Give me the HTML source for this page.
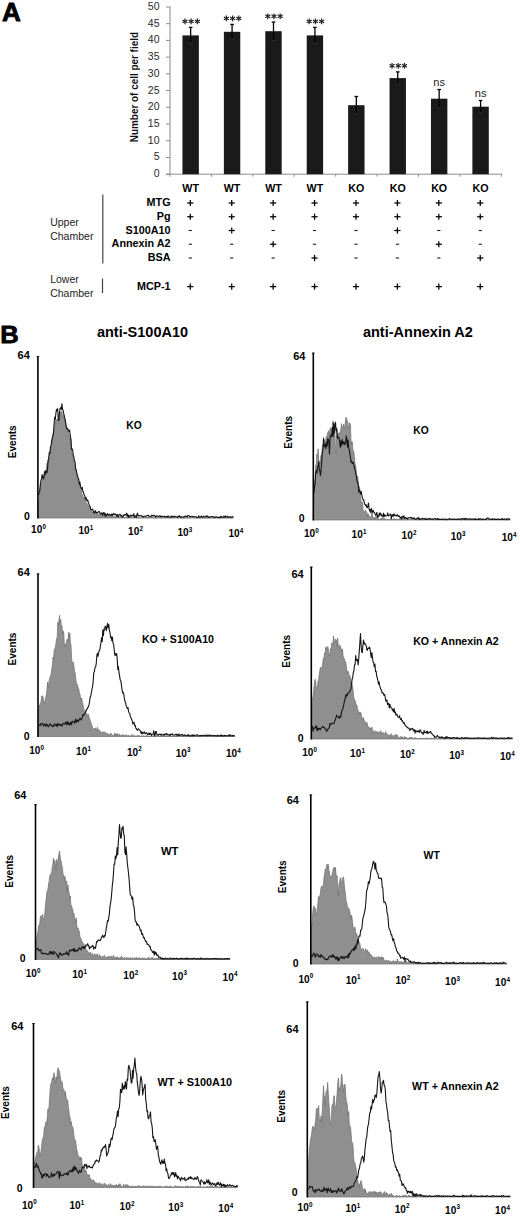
<!DOCTYPE html>
<html><head><meta charset="utf-8"><style>
html,body{margin:0;padding:0;background:#fff;}
body{width:520px;height:1216px;overflow:hidden;}
svg{display:block;font-family:"Liberation Sans",sans-serif;}
</style></head><body>
<svg width="520" height="1216" viewBox="0 0 520 1216">
<rect width="520" height="1216" fill="#fff"/>
<text transform="translate(1.9,20.9) scale(1.02,1)" font-size="25.6" font-weight="bold" stroke="#000" stroke-width="0.8">A</text>
<line x1="170.00" y1="6.50" x2="170.00" y2="174.20" stroke="#8c8c8c" stroke-width="1"/>
<line x1="166.00" y1="174.20" x2="170.00" y2="174.20" stroke="#8c8c8c" stroke-width="1"/>
<text x="159.50" y="177.20" font-size="10.5" font-weight="normal" text-anchor="end" fill="#2a2a2a" >0</text>
<line x1="166.00" y1="157.47" x2="170.00" y2="157.47" stroke="#8c8c8c" stroke-width="1"/>
<text x="159.50" y="160.47" font-size="10.5" font-weight="normal" text-anchor="end" fill="#2a2a2a" >5</text>
<line x1="166.00" y1="140.75" x2="170.00" y2="140.75" stroke="#8c8c8c" stroke-width="1"/>
<text x="159.50" y="143.75" font-size="10.5" font-weight="normal" text-anchor="end" fill="#2a2a2a" >10</text>
<line x1="166.00" y1="124.02" x2="170.00" y2="124.02" stroke="#8c8c8c" stroke-width="1"/>
<text x="159.50" y="127.02" font-size="10.5" font-weight="normal" text-anchor="end" fill="#2a2a2a" >15</text>
<line x1="166.00" y1="107.30" x2="170.00" y2="107.30" stroke="#8c8c8c" stroke-width="1"/>
<text x="159.50" y="110.30" font-size="10.5" font-weight="normal" text-anchor="end" fill="#2a2a2a" >20</text>
<line x1="166.00" y1="90.57" x2="170.00" y2="90.57" stroke="#8c8c8c" stroke-width="1"/>
<text x="159.50" y="93.57" font-size="10.5" font-weight="normal" text-anchor="end" fill="#2a2a2a" >25</text>
<line x1="166.00" y1="73.85" x2="170.00" y2="73.85" stroke="#8c8c8c" stroke-width="1"/>
<text x="159.50" y="76.85" font-size="10.5" font-weight="normal" text-anchor="end" fill="#2a2a2a" >30</text>
<line x1="166.00" y1="57.12" x2="170.00" y2="57.12" stroke="#8c8c8c" stroke-width="1"/>
<text x="159.50" y="60.12" font-size="10.5" font-weight="normal" text-anchor="end" fill="#2a2a2a" >35</text>
<line x1="166.00" y1="40.40" x2="170.00" y2="40.40" stroke="#8c8c8c" stroke-width="1"/>
<text x="159.50" y="43.40" font-size="10.5" font-weight="normal" text-anchor="end" fill="#2a2a2a" >40</text>
<line x1="166.00" y1="23.67" x2="170.00" y2="23.67" stroke="#8c8c8c" stroke-width="1"/>
<text x="159.50" y="26.67" font-size="10.5" font-weight="normal" text-anchor="end" fill="#2a2a2a" >45</text>
<line x1="166.00" y1="6.95" x2="170.00" y2="6.95" stroke="#8c8c8c" stroke-width="1"/>
<text x="159.50" y="9.95" font-size="10.5" font-weight="normal" text-anchor="end" fill="#2a2a2a" >50</text>
<line x1="166.00" y1="174.20" x2="502.00" y2="174.20" stroke="#8c8c8c" stroke-width="1"/>
<line x1="170.00" y1="174.20" x2="170.00" y2="176.70" stroke="#8c8c8c" stroke-width="1"/>
<line x1="211.42" y1="174.20" x2="211.42" y2="176.70" stroke="#8c8c8c" stroke-width="1"/>
<line x1="252.84" y1="174.20" x2="252.84" y2="176.70" stroke="#8c8c8c" stroke-width="1"/>
<line x1="294.26" y1="174.20" x2="294.26" y2="176.70" stroke="#8c8c8c" stroke-width="1"/>
<line x1="335.68" y1="174.20" x2="335.68" y2="176.70" stroke="#8c8c8c" stroke-width="1"/>
<line x1="377.10" y1="174.20" x2="377.10" y2="176.70" stroke="#8c8c8c" stroke-width="1"/>
<line x1="418.52" y1="174.20" x2="418.52" y2="176.70" stroke="#8c8c8c" stroke-width="1"/>
<line x1="459.94" y1="174.20" x2="459.94" y2="176.70" stroke="#8c8c8c" stroke-width="1"/>
<line x1="501.36" y1="174.20" x2="501.36" y2="176.70" stroke="#8c8c8c" stroke-width="1"/>
<text transform="translate(137.8,87.1) rotate(-90)" font-size="10.2" font-weight="bold" text-anchor="middle" fill="#111" textLength="110.2" lengthAdjust="spacingAndGlyphs">Number of cell per field</text>
<rect x="182.45" y="35.40" width="16.4" height="138.80" fill="#1a1a1a"/>
<line x1="190.65" y1="27.40" x2="190.65" y2="43.40" stroke="#000" stroke-width="1.3"/>
<line x1="188.85" y1="27.40" x2="192.45" y2="27.40" stroke="#000" stroke-width="1.3"/>
<line x1="188.85" y1="43.40" x2="192.45" y2="43.40" stroke="#333" stroke-width="1.0"/>
<line x1="184.95" y1="18.50" x2="184.95" y2="24.30" stroke="#222" stroke-width="1.2"/>
<line x1="182.44" y1="19.95" x2="187.46" y2="22.85" stroke="#222" stroke-width="1.2"/>
<line x1="187.46" y1="19.95" x2="182.44" y2="22.85" stroke="#222" stroke-width="1.2"/>
<line x1="191.15" y1="18.50" x2="191.15" y2="24.30" stroke="#222" stroke-width="1.2"/>
<line x1="188.64" y1="19.95" x2="193.66" y2="22.85" stroke="#222" stroke-width="1.2"/>
<line x1="193.66" y1="19.95" x2="188.64" y2="22.85" stroke="#222" stroke-width="1.2"/>
<line x1="197.35" y1="18.50" x2="197.35" y2="24.30" stroke="#222" stroke-width="1.2"/>
<line x1="194.84" y1="19.95" x2="199.86" y2="22.85" stroke="#222" stroke-width="1.2"/>
<line x1="199.86" y1="19.95" x2="194.84" y2="22.85" stroke="#222" stroke-width="1.2"/>
<text x="190.65" y="192.30" font-size="10.7" font-weight="bold" text-anchor="middle" fill="#000" >WT</text>
<rect x="223.87" y="31.80" width="16.4" height="142.40" fill="#1a1a1a"/>
<line x1="232.07" y1="24.40" x2="232.07" y2="39.20" stroke="#000" stroke-width="1.3"/>
<line x1="230.27" y1="24.40" x2="233.87" y2="24.40" stroke="#000" stroke-width="1.3"/>
<line x1="230.27" y1="39.20" x2="233.87" y2="39.20" stroke="#333" stroke-width="1.0"/>
<line x1="226.37" y1="15.50" x2="226.37" y2="21.30" stroke="#222" stroke-width="1.2"/>
<line x1="223.86" y1="16.95" x2="228.88" y2="19.85" stroke="#222" stroke-width="1.2"/>
<line x1="228.88" y1="16.95" x2="223.86" y2="19.85" stroke="#222" stroke-width="1.2"/>
<line x1="232.57" y1="15.50" x2="232.57" y2="21.30" stroke="#222" stroke-width="1.2"/>
<line x1="230.06" y1="16.95" x2="235.08" y2="19.85" stroke="#222" stroke-width="1.2"/>
<line x1="235.08" y1="16.95" x2="230.06" y2="19.85" stroke="#222" stroke-width="1.2"/>
<line x1="238.77" y1="15.50" x2="238.77" y2="21.30" stroke="#222" stroke-width="1.2"/>
<line x1="236.26" y1="16.95" x2="241.28" y2="19.85" stroke="#222" stroke-width="1.2"/>
<line x1="241.28" y1="16.95" x2="236.26" y2="19.85" stroke="#222" stroke-width="1.2"/>
<text x="232.07" y="192.30" font-size="10.7" font-weight="bold" text-anchor="middle" fill="#000" >WT</text>
<rect x="265.29" y="31.20" width="16.4" height="143.00" fill="#1a1a1a"/>
<line x1="273.49" y1="22.00" x2="273.49" y2="40.40" stroke="#000" stroke-width="1.3"/>
<line x1="271.69" y1="22.00" x2="275.29" y2="22.00" stroke="#000" stroke-width="1.3"/>
<line x1="271.69" y1="40.40" x2="275.29" y2="40.40" stroke="#333" stroke-width="1.0"/>
<line x1="267.79" y1="13.40" x2="267.79" y2="19.20" stroke="#222" stroke-width="1.2"/>
<line x1="265.28" y1="14.85" x2="270.30" y2="17.75" stroke="#222" stroke-width="1.2"/>
<line x1="270.30" y1="14.85" x2="265.28" y2="17.75" stroke="#222" stroke-width="1.2"/>
<line x1="273.99" y1="13.40" x2="273.99" y2="19.20" stroke="#222" stroke-width="1.2"/>
<line x1="271.48" y1="14.85" x2="276.50" y2="17.75" stroke="#222" stroke-width="1.2"/>
<line x1="276.50" y1="14.85" x2="271.48" y2="17.75" stroke="#222" stroke-width="1.2"/>
<line x1="280.19" y1="13.40" x2="280.19" y2="19.20" stroke="#222" stroke-width="1.2"/>
<line x1="277.68" y1="14.85" x2="282.70" y2="17.75" stroke="#222" stroke-width="1.2"/>
<line x1="282.70" y1="14.85" x2="277.68" y2="17.75" stroke="#222" stroke-width="1.2"/>
<text x="273.49" y="192.30" font-size="10.7" font-weight="bold" text-anchor="middle" fill="#000" >WT</text>
<rect x="306.71" y="35.40" width="16.4" height="138.80" fill="#1a1a1a"/>
<line x1="314.91" y1="27.40" x2="314.91" y2="43.40" stroke="#000" stroke-width="1.3"/>
<line x1="313.11" y1="27.40" x2="316.71" y2="27.40" stroke="#000" stroke-width="1.3"/>
<line x1="313.11" y1="43.40" x2="316.71" y2="43.40" stroke="#333" stroke-width="1.0"/>
<line x1="309.21" y1="18.50" x2="309.21" y2="24.30" stroke="#222" stroke-width="1.2"/>
<line x1="306.70" y1="19.95" x2="311.72" y2="22.85" stroke="#222" stroke-width="1.2"/>
<line x1="311.72" y1="19.95" x2="306.70" y2="22.85" stroke="#222" stroke-width="1.2"/>
<line x1="315.41" y1="18.50" x2="315.41" y2="24.30" stroke="#222" stroke-width="1.2"/>
<line x1="312.90" y1="19.95" x2="317.92" y2="22.85" stroke="#222" stroke-width="1.2"/>
<line x1="317.92" y1="19.95" x2="312.90" y2="22.85" stroke="#222" stroke-width="1.2"/>
<line x1="321.61" y1="18.50" x2="321.61" y2="24.30" stroke="#222" stroke-width="1.2"/>
<line x1="319.10" y1="19.95" x2="324.12" y2="22.85" stroke="#222" stroke-width="1.2"/>
<line x1="324.12" y1="19.95" x2="319.10" y2="22.85" stroke="#222" stroke-width="1.2"/>
<text x="314.91" y="192.30" font-size="10.7" font-weight="bold" text-anchor="middle" fill="#000" >WT</text>
<rect x="348.13" y="105.20" width="16.4" height="69.00" fill="#1a1a1a"/>
<line x1="356.33" y1="96.50" x2="356.33" y2="113.90" stroke="#000" stroke-width="1.3"/>
<line x1="354.53" y1="96.50" x2="358.13" y2="96.50" stroke="#000" stroke-width="1.3"/>
<line x1="354.53" y1="113.90" x2="358.13" y2="113.90" stroke="#333" stroke-width="1.0"/>
<text x="356.33" y="192.30" font-size="10.7" font-weight="bold" text-anchor="middle" fill="#000" >KO</text>
<rect x="389.55" y="78.10" width="16.4" height="96.10" fill="#1a1a1a"/>
<line x1="397.75" y1="71.90" x2="397.75" y2="84.30" stroke="#000" stroke-width="1.3"/>
<line x1="395.95" y1="71.90" x2="399.55" y2="71.90" stroke="#000" stroke-width="1.3"/>
<line x1="395.95" y1="84.30" x2="399.55" y2="84.30" stroke="#333" stroke-width="1.0"/>
<line x1="392.05" y1="62.90" x2="392.05" y2="68.70" stroke="#222" stroke-width="1.2"/>
<line x1="389.54" y1="64.35" x2="394.56" y2="67.25" stroke="#222" stroke-width="1.2"/>
<line x1="394.56" y1="64.35" x2="389.54" y2="67.25" stroke="#222" stroke-width="1.2"/>
<line x1="398.25" y1="62.90" x2="398.25" y2="68.70" stroke="#222" stroke-width="1.2"/>
<line x1="395.74" y1="64.35" x2="400.76" y2="67.25" stroke="#222" stroke-width="1.2"/>
<line x1="400.76" y1="64.35" x2="395.74" y2="67.25" stroke="#222" stroke-width="1.2"/>
<line x1="404.45" y1="62.90" x2="404.45" y2="68.70" stroke="#222" stroke-width="1.2"/>
<line x1="401.94" y1="64.35" x2="406.96" y2="67.25" stroke="#222" stroke-width="1.2"/>
<line x1="406.96" y1="64.35" x2="401.94" y2="67.25" stroke="#222" stroke-width="1.2"/>
<text x="397.75" y="192.30" font-size="10.7" font-weight="bold" text-anchor="middle" fill="#000" >KO</text>
<rect x="430.97" y="98.70" width="16.4" height="75.50" fill="#1a1a1a"/>
<line x1="439.17" y1="89.50" x2="439.17" y2="107.90" stroke="#000" stroke-width="1.3"/>
<line x1="437.37" y1="89.50" x2="440.97" y2="89.50" stroke="#000" stroke-width="1.3"/>
<line x1="437.37" y1="107.90" x2="440.97" y2="107.90" stroke="#333" stroke-width="1.0"/>
<text x="439.17" y="85.50" font-size="11" font-weight="normal" text-anchor="middle" fill="#222" >ns</text>
<text x="439.17" y="192.30" font-size="10.7" font-weight="bold" text-anchor="middle" fill="#000" >KO</text>
<rect x="472.39" y="106.70" width="16.4" height="67.50" fill="#1a1a1a"/>
<line x1="480.59" y1="100.50" x2="480.59" y2="112.90" stroke="#000" stroke-width="1.3"/>
<line x1="478.79" y1="100.50" x2="482.39" y2="100.50" stroke="#000" stroke-width="1.3"/>
<line x1="478.79" y1="112.90" x2="482.39" y2="112.90" stroke="#333" stroke-width="1.0"/>
<text x="480.59" y="97.20" font-size="11" font-weight="normal" text-anchor="middle" fill="#222" >ns</text>
<text x="480.59" y="192.30" font-size="10.7" font-weight="bold" text-anchor="middle" fill="#000" >KO</text>
<text x="170.60" y="206.00" font-size="10.8" font-weight="bold" text-anchor="end" fill="#000" >MTG</text>
<line x1="187.20" y1="203.00" x2="193.40" y2="203.00" stroke="#000" stroke-width="1.25"/>
<line x1="190.30" y1="199.90" x2="190.30" y2="206.10" stroke="#000" stroke-width="1.25"/>
<line x1="228.62" y1="203.00" x2="234.82" y2="203.00" stroke="#000" stroke-width="1.25"/>
<line x1="231.72" y1="199.90" x2="231.72" y2="206.10" stroke="#000" stroke-width="1.25"/>
<line x1="270.04" y1="203.00" x2="276.24" y2="203.00" stroke="#000" stroke-width="1.25"/>
<line x1="273.14" y1="199.90" x2="273.14" y2="206.10" stroke="#000" stroke-width="1.25"/>
<line x1="311.46" y1="203.00" x2="317.66" y2="203.00" stroke="#000" stroke-width="1.25"/>
<line x1="314.56" y1="199.90" x2="314.56" y2="206.10" stroke="#000" stroke-width="1.25"/>
<line x1="352.88" y1="203.00" x2="359.08" y2="203.00" stroke="#000" stroke-width="1.25"/>
<line x1="355.98" y1="199.90" x2="355.98" y2="206.10" stroke="#000" stroke-width="1.25"/>
<line x1="394.30" y1="203.00" x2="400.50" y2="203.00" stroke="#000" stroke-width="1.25"/>
<line x1="397.40" y1="199.90" x2="397.40" y2="206.10" stroke="#000" stroke-width="1.25"/>
<line x1="435.72" y1="203.00" x2="441.92" y2="203.00" stroke="#000" stroke-width="1.25"/>
<line x1="438.82" y1="199.90" x2="438.82" y2="206.10" stroke="#000" stroke-width="1.25"/>
<line x1="477.14" y1="203.00" x2="483.34" y2="203.00" stroke="#000" stroke-width="1.25"/>
<line x1="480.24" y1="199.90" x2="480.24" y2="206.10" stroke="#000" stroke-width="1.25"/>
<text x="170.60" y="219.75" font-size="10.8" font-weight="bold" text-anchor="end" fill="#000" >Pg</text>
<line x1="187.20" y1="216.75" x2="193.40" y2="216.75" stroke="#000" stroke-width="1.25"/>
<line x1="190.30" y1="213.65" x2="190.30" y2="219.85" stroke="#000" stroke-width="1.25"/>
<line x1="228.62" y1="216.75" x2="234.82" y2="216.75" stroke="#000" stroke-width="1.25"/>
<line x1="231.72" y1="213.65" x2="231.72" y2="219.85" stroke="#000" stroke-width="1.25"/>
<line x1="270.04" y1="216.75" x2="276.24" y2="216.75" stroke="#000" stroke-width="1.25"/>
<line x1="273.14" y1="213.65" x2="273.14" y2="219.85" stroke="#000" stroke-width="1.25"/>
<line x1="311.46" y1="216.75" x2="317.66" y2="216.75" stroke="#000" stroke-width="1.25"/>
<line x1="314.56" y1="213.65" x2="314.56" y2="219.85" stroke="#000" stroke-width="1.25"/>
<line x1="352.88" y1="216.75" x2="359.08" y2="216.75" stroke="#000" stroke-width="1.25"/>
<line x1="355.98" y1="213.65" x2="355.98" y2="219.85" stroke="#000" stroke-width="1.25"/>
<line x1="394.30" y1="216.75" x2="400.50" y2="216.75" stroke="#000" stroke-width="1.25"/>
<line x1="397.40" y1="213.65" x2="397.40" y2="219.85" stroke="#000" stroke-width="1.25"/>
<line x1="435.72" y1="216.75" x2="441.92" y2="216.75" stroke="#000" stroke-width="1.25"/>
<line x1="438.82" y1="213.65" x2="438.82" y2="219.85" stroke="#000" stroke-width="1.25"/>
<line x1="477.14" y1="216.75" x2="483.34" y2="216.75" stroke="#000" stroke-width="1.25"/>
<line x1="480.24" y1="213.65" x2="480.24" y2="219.85" stroke="#000" stroke-width="1.25"/>
<text x="170.60" y="233.50" font-size="10.8" font-weight="bold" text-anchor="end" fill="#000" >S100A10</text>
<line x1="188.70" y1="230.50" x2="191.90" y2="230.50" stroke="#222" stroke-width="1.15"/>
<line x1="228.62" y1="230.50" x2="234.82" y2="230.50" stroke="#000" stroke-width="1.25"/>
<line x1="231.72" y1="227.40" x2="231.72" y2="233.60" stroke="#000" stroke-width="1.25"/>
<line x1="271.54" y1="230.50" x2="274.74" y2="230.50" stroke="#222" stroke-width="1.15"/>
<line x1="312.96" y1="230.50" x2="316.16" y2="230.50" stroke="#222" stroke-width="1.15"/>
<line x1="354.38" y1="230.50" x2="357.58" y2="230.50" stroke="#222" stroke-width="1.15"/>
<line x1="394.30" y1="230.50" x2="400.50" y2="230.50" stroke="#000" stroke-width="1.25"/>
<line x1="397.40" y1="227.40" x2="397.40" y2="233.60" stroke="#000" stroke-width="1.25"/>
<line x1="437.22" y1="230.50" x2="440.42" y2="230.50" stroke="#222" stroke-width="1.15"/>
<line x1="478.64" y1="230.50" x2="481.84" y2="230.50" stroke="#222" stroke-width="1.15"/>
<text x="170.60" y="247.25" font-size="10.8" font-weight="bold" text-anchor="end" fill="#000" >Annexin A2</text>
<line x1="188.70" y1="244.25" x2="191.90" y2="244.25" stroke="#222" stroke-width="1.15"/>
<line x1="230.12" y1="244.25" x2="233.32" y2="244.25" stroke="#222" stroke-width="1.15"/>
<line x1="270.04" y1="244.25" x2="276.24" y2="244.25" stroke="#000" stroke-width="1.25"/>
<line x1="273.14" y1="241.15" x2="273.14" y2="247.35" stroke="#000" stroke-width="1.25"/>
<line x1="312.96" y1="244.25" x2="316.16" y2="244.25" stroke="#222" stroke-width="1.15"/>
<line x1="354.38" y1="244.25" x2="357.58" y2="244.25" stroke="#222" stroke-width="1.15"/>
<line x1="395.80" y1="244.25" x2="399.00" y2="244.25" stroke="#222" stroke-width="1.15"/>
<line x1="435.72" y1="244.25" x2="441.92" y2="244.25" stroke="#000" stroke-width="1.25"/>
<line x1="438.82" y1="241.15" x2="438.82" y2="247.35" stroke="#000" stroke-width="1.25"/>
<line x1="478.64" y1="244.25" x2="481.84" y2="244.25" stroke="#222" stroke-width="1.15"/>
<text x="170.60" y="261.00" font-size="10.8" font-weight="bold" text-anchor="end" fill="#000" >BSA</text>
<line x1="188.70" y1="258.00" x2="191.90" y2="258.00" stroke="#222" stroke-width="1.15"/>
<line x1="230.12" y1="258.00" x2="233.32" y2="258.00" stroke="#222" stroke-width="1.15"/>
<line x1="271.54" y1="258.00" x2="274.74" y2="258.00" stroke="#222" stroke-width="1.15"/>
<line x1="311.46" y1="258.00" x2="317.66" y2="258.00" stroke="#000" stroke-width="1.25"/>
<line x1="314.56" y1="254.90" x2="314.56" y2="261.10" stroke="#000" stroke-width="1.25"/>
<line x1="354.38" y1="258.00" x2="357.58" y2="258.00" stroke="#222" stroke-width="1.15"/>
<line x1="395.80" y1="258.00" x2="399.00" y2="258.00" stroke="#222" stroke-width="1.15"/>
<line x1="437.22" y1="258.00" x2="440.42" y2="258.00" stroke="#222" stroke-width="1.15"/>
<line x1="477.14" y1="258.00" x2="483.34" y2="258.00" stroke="#000" stroke-width="1.25"/>
<line x1="480.24" y1="254.90" x2="480.24" y2="261.10" stroke="#000" stroke-width="1.25"/>
<text x="170.60" y="289.60" font-size="10.8" font-weight="bold" text-anchor="end" fill="#000" >MCP-1</text>
<line x1="187.20" y1="286.60" x2="193.40" y2="286.60" stroke="#000" stroke-width="1.25"/>
<line x1="190.30" y1="283.50" x2="190.30" y2="289.70" stroke="#000" stroke-width="1.25"/>
<line x1="228.62" y1="286.60" x2="234.82" y2="286.60" stroke="#000" stroke-width="1.25"/>
<line x1="231.72" y1="283.50" x2="231.72" y2="289.70" stroke="#000" stroke-width="1.25"/>
<line x1="270.04" y1="286.60" x2="276.24" y2="286.60" stroke="#000" stroke-width="1.25"/>
<line x1="273.14" y1="283.50" x2="273.14" y2="289.70" stroke="#000" stroke-width="1.25"/>
<line x1="311.46" y1="286.60" x2="317.66" y2="286.60" stroke="#000" stroke-width="1.25"/>
<line x1="314.56" y1="283.50" x2="314.56" y2="289.70" stroke="#000" stroke-width="1.25"/>
<line x1="352.88" y1="286.60" x2="359.08" y2="286.60" stroke="#000" stroke-width="1.25"/>
<line x1="355.98" y1="283.50" x2="355.98" y2="289.70" stroke="#000" stroke-width="1.25"/>
<line x1="394.30" y1="286.60" x2="400.50" y2="286.60" stroke="#000" stroke-width="1.25"/>
<line x1="397.40" y1="283.50" x2="397.40" y2="289.70" stroke="#000" stroke-width="1.25"/>
<line x1="435.72" y1="286.60" x2="441.92" y2="286.60" stroke="#000" stroke-width="1.25"/>
<line x1="438.82" y1="283.50" x2="438.82" y2="289.70" stroke="#000" stroke-width="1.25"/>
<line x1="477.14" y1="286.60" x2="483.34" y2="286.60" stroke="#000" stroke-width="1.25"/>
<line x1="480.24" y1="283.50" x2="480.24" y2="289.70" stroke="#000" stroke-width="1.25"/>
<text x="50.20" y="226.30" font-size="10.5" font-weight="normal" text-anchor="start" fill="#222" >Upper</text>
<text x="50.20" y="240.00" font-size="10.5" font-weight="normal" text-anchor="start" fill="#222" >Chamber</text>
<text x="50.20" y="283.10" font-size="10.5" font-weight="normal" text-anchor="start" fill="#222" >Lower</text>
<text x="50.20" y="296.90" font-size="10.5" font-weight="normal" text-anchor="start" fill="#222" >Chamber</text>
<line x1="102.80" y1="194.40" x2="102.80" y2="263.50" stroke="#444" stroke-width="1.2"/>
<line x1="102.50" y1="278.50" x2="102.50" y2="293.00" stroke="#444" stroke-width="1.2"/>
<text transform="translate(0.3,343.1) scale(1.04,1)" font-size="24.6" font-weight="bold" stroke="#000" stroke-width="0.8">B</text>
<text x="96.90" y="336.80" font-size="14.3" font-weight="bold" text-anchor="start" fill="#000" textLength="91.2" lengthAdjust="spacingAndGlyphs">anti-S100A10</text>
<text x="362.90" y="336.80" font-size="14.4" font-weight="bold" text-anchor="start" fill="#000" textLength="110" lengthAdjust="spacingAndGlyphs">anti-Annexin A2</text>
<path d="M37.90,518.00 L38.50,503.05 L39.10,498.91 L39.70,492.12 L40.30,487.21 L40.90,485.05 L41.50,484.32 L42.10,480.00 L42.70,477.05 L43.30,478.38 L43.90,476.63 L44.50,475.14 L45.10,470.47 L45.70,470.57 L46.30,468.66 L46.90,462.97 L47.50,463.40 L48.10,460.15 L48.70,462.55 L49.30,455.68 L49.90,451.61 L50.50,451.29 L51.10,446.78 L51.70,445.67 L52.30,438.23 L52.90,434.49 L53.50,432.38 L54.10,429.64 L54.70,426.18 L55.30,420.51 L55.90,421.93 L56.50,419.40 L57.10,420.83 L57.70,419.20 L58.30,421.08 L58.90,417.86 L59.50,418.04 L60.10,418.06 L60.70,411.96 L61.30,412.36 L61.90,411.17 L62.50,418.74 L63.10,414.77 L63.70,417.95 L64.30,419.23 L64.90,419.59 L65.50,419.19 L66.10,427.23 L66.70,426.12 L67.30,431.91 L67.90,429.36 L68.50,432.45 L69.10,437.91 L69.70,439.63 L70.30,435.21 L70.90,440.17 L71.50,448.47 L72.10,453.33 L72.70,455.19 L73.30,459.54 L73.90,460.09 L74.50,465.55 L75.10,470.42 L75.70,471.23 L76.30,471.41 L76.90,475.11 L77.50,480.43 L78.10,478.38 L78.70,482.33 L79.30,483.09 L79.90,486.65 L80.50,488.29 L81.10,489.79 L81.70,493.56 L82.30,494.36 L82.90,497.54 L83.50,497.13 L84.10,497.71 L84.70,500.15 L85.30,498.17 L85.90,502.41 L86.50,503.42 L87.10,503.16 L87.70,506.55 L88.30,506.76 L88.90,505.45 L89.50,508.35 L90.10,508.11 L90.70,509.34 L91.30,510.49 L91.90,512.71 L92.50,511.97 L93.10,512.11 L93.70,512.73 L94.30,510.52 L94.90,514.14 L95.50,511.87 L96.10,513.82 L96.70,512.36 L97.30,512.76 L97.90,513.58 L98.50,516.20 L99.10,514.92 L99.70,513.54 L100.30,513.96 L100.90,513.08 L101.50,514.39 L102.10,513.88 L102.70,515.38 L103.30,513.17 L103.90,514.35 L104.50,513.84 L105.10,514.02 L105.70,515.65 L106.30,515.08 L106.90,515.68 L107.50,516.44 L108.10,516.51 L108.70,513.86 L109.30,516.09 L109.90,513.69 L110.50,515.69 L111.10,518.00 L111.70,515.80 L112.30,515.72 L112.90,516.42 L113.50,516.35 L114.10,516.44 L114.70,515.64 L115.30,517.05 L115.90,516.96 L116.50,516.43 L117.10,516.71 L117.70,516.90 L118.30,517.10 L118.90,516.80 L119.50,516.98 L120.10,516.52 L120.70,516.14 L121.30,516.45 L121.90,517.24 L122.50,517.24 L123.10,516.85 L123.70,516.53 L124.30,516.99 L124.90,517.70 L125.50,517.58 L126.10,516.59 L126.70,516.94 L127.30,516.26 L127.90,516.45 L128.50,517.15 L129.10,517.09 L129.70,517.59 L130.30,517.78 L130.90,517.59 L131.50,517.86 L132.10,516.96 L132.70,516.69 L133.30,517.53 L133.90,518.00 L134.50,517.51 L135.10,516.78 L135.70,517.50 L136.30,518.00 L136.90,516.90 L137.50,517.84 L138.10,517.15 L138.70,518.00 L139.30,517.88 L139.90,517.65 L140.50,518.00 L141.10,517.30 L141.70,517.16 L142.30,518.00 L142.90,517.07 L143.50,518.00 L144.10,517.49 L144.70,517.00 L145.30,517.52 L145.90,517.58 L146.50,517.62 L147.10,517.43 L147.70,518.00 L148.30,516.37 L148.90,517.25 L149.50,517.40 L150.10,518.00 L150.70,516.54 L151.30,517.37 L151.90,516.97 L152.50,517.21 L153.10,517.87 L153.70,517.76 L154.30,518.00 L154.90,517.26 L155.50,517.69 L156.10,518.00 L156.70,518.00 L157.30,517.40 L157.90,518.00 L158.50,517.11 L159.10,518.00 L159.70,517.66 L160.30,517.53 L160.90,517.72 L161.50,518.00 L162.10,518.00 L162.70,517.52 L163.30,517.42 L163.90,517.90 L164.50,517.17 L165.10,516.76 L165.70,518.00 L166.30,517.43 L166.90,518.00 L167.50,517.11 L168.10,516.18 L168.70,517.77 L169.30,517.71 L169.90,518.00 L170.50,517.91 L171.10,517.80 L171.70,517.94 L172.30,517.47 L172.90,517.70 L173.50,516.99 L174.10,517.93 L174.70,517.27 L175.30,517.45 L175.90,518.00 L176.50,518.00 L177.10,517.18 L177.70,518.00 L178.30,517.40 L178.90,518.00 L179.50,518.00 L180.10,517.82 L180.70,517.80 L181.30,518.00 L181.90,518.00 L182.50,517.95 L183.10,516.81 L183.70,517.36 L184.30,518.00 L184.90,517.84 L185.50,517.27 L186.10,517.43 L186.70,517.60 L187.30,518.00 L187.90,517.95 L188.50,518.00 L189.10,517.36 L189.70,518.00 L190.30,517.53 L190.90,517.63 L191.50,518.00 L192.10,517.83 L192.70,517.72 L193.30,517.69 L193.90,517.61 L194.50,518.00 L195.10,518.00 L195.70,518.00 L196.30,517.91 L196.90,518.00 L197.50,517.79 L198.10,518.00 L198.70,518.00 L199.30,517.88 L199.90,518.00 L200.50,518.00 L201.10,518.00 L201.70,516.90 L202.30,518.00 L202.90,518.00 L203.50,517.64 L204.10,517.86 L204.70,518.00 L205.30,518.00 L205.90,518.00 L206.50,517.95 L207.10,517.90 L207.70,518.00 L208.30,517.85 L208.90,517.45 L209.50,517.59 L210.10,517.83 L210.70,518.00 L211.30,518.00 L211.90,517.23 L212.50,518.00 L213.10,517.87 L213.70,518.00 L214.30,518.00 L214.90,518.00 L215.50,517.85 L216.10,517.66 L216.70,517.26 L217.30,517.90 L217.90,518.00 L218.50,517.81 L219.10,518.00 L219.70,518.00 L220.30,518.00 L220.90,518.00 L221.50,517.90 L222.10,517.55 L222.70,517.38 L223.30,518.00 L223.90,517.79 L224.50,517.82 L225.10,518.00 L225.70,517.58 L226.30,518.00 L226.90,518.00 L227.50,517.72 L228.10,517.67 L228.70,518.00 L229.30,517.40 L229.90,517.67 L230.50,518.00 L231.10,518.00 L231.70,518.00 L232.30,518.00 L232.90,517.82 L233.50,517.94 L233.70,518.00 Z" fill="#8f8f8f" stroke="#6e6e6e" stroke-width="0.7"/>
<path d="M38.50,495.24 L39.10,492.05 L39.70,491.51 L40.30,484.78 L40.90,480.61 L41.50,478.86 L42.10,474.60 L42.70,476.01 L43.30,478.99 L43.90,477.70 L44.50,471.50 L45.10,474.98 L45.70,471.45 L46.30,470.90 L46.90,472.97 L47.50,469.65 L48.10,460.85 L48.70,458.29 L49.30,452.30 L49.90,453.58 L50.50,446.33 L51.10,445.90 L51.70,440.40 L52.30,438.02 L52.90,436.08 L53.50,432.81 L54.10,423.90 L54.70,417.16 L55.30,419.55 L55.90,413.21 L56.50,409.40 L57.10,410.71 L57.70,408.67 L58.30,419.64 L58.90,420.65 L59.50,413.42 L60.10,408.30 L60.70,407.64 L61.30,409.38 L61.90,403.69 L62.50,409.32 L63.10,410.02 L63.70,413.53 L64.30,415.69 L64.90,418.66 L65.50,422.38 L66.10,425.74 L66.70,428.84 L67.30,428.49 L67.90,428.82 L68.50,430.55 L69.10,431.42 L69.70,430.19 L70.30,436.68 L70.90,438.79 L71.50,449.50 L72.10,448.77 L72.70,449.97 L73.30,455.45 L73.90,457.13 L74.50,460.96 L75.10,461.95 L75.70,469.90 L76.30,469.91 L76.90,474.02 L77.50,475.05 L78.10,477.94 L78.70,479.01 L79.30,484.55 L79.90,482.08 L80.50,486.44 L81.10,488.07 L81.70,489.26 L82.30,487.34 L82.90,492.00 L83.50,491.84 L84.10,495.03 L84.70,495.34 L85.30,498.98 L85.90,497.33 L86.50,499.27 L87.10,501.11 L87.70,499.93 L88.30,502.14 L88.90,503.91 L89.50,505.88 L90.10,506.22 L90.70,509.05 L91.30,509.78 L91.90,509.71 L92.50,509.08 L93.10,510.54 L93.70,512.73 L94.30,512.73 L94.90,511.71 L95.50,510.65 L96.10,512.87 L96.70,512.83 L97.30,512.44 L97.90,512.56 L98.50,511.54 L99.10,511.64 L99.70,512.03 L100.30,513.83 L100.90,513.80 L101.50,512.85 L102.10,513.48 L102.70,515.42 L103.30,512.62 L103.90,513.55 L104.50,512.75 L105.10,516.34 L105.70,513.74 L106.30,515.79 L106.90,515.10 L107.50,513.59 L108.10,515.07 L108.70,514.67 L109.30,515.04 L109.90,514.80 L110.50,515.35 L111.10,515.38 L111.70,513.95 L112.30,515.71 L112.90,514.06 L113.50,513.55 L114.10,514.63 L114.70,514.11 L115.30,514.40 L115.90,513.98 L116.50,516.16 L117.10,516.21 L117.70,514.54 L118.30,516.75 L118.90,515.20 L119.50,514.49 L120.10,514.22 L120.70,515.84 L121.30,515.30 L121.90,515.73 L122.50,517.40 L123.10,516.55 L123.70,515.45 L124.30,514.38 L124.90,515.16 L125.50,514.87 L126.10,514.99 L126.70,513.07 L127.30,515.89 L127.90,514.52 L128.50,517.40 L129.10,515.52 L129.70,516.85 L130.30,516.21 L130.90,514.97 L131.50,516.08 L132.10,515.37 L132.70,515.42 L133.30,515.80 L133.90,513.67 L134.50,517.40 L135.10,516.50 L135.70,515.71 L136.30,517.40 L136.90,514.80 L137.50,513.09 L138.10,516.05 L138.70,515.49 L139.30,515.90 L139.90,515.66 L140.50,515.84 L141.10,515.46 L141.70,515.95 L142.30,516.36 L142.90,516.19 L143.50,516.89 L144.10,516.33 L144.70,516.25 L145.30,516.16 L145.90,516.34 L146.50,516.00 L147.10,515.43 L147.70,515.56 L148.30,515.20 L148.90,516.00 L149.50,516.19 L150.10,516.38 L150.70,516.73 L151.30,515.94 L151.90,515.10 L152.50,515.84 L153.10,516.19 L153.70,515.25 L154.30,515.59 L154.90,515.66 L155.50,517.25 L156.10,516.80 L156.70,515.89 L157.30,516.01 L157.90,516.31 L158.50,516.40 L159.10,516.38 L159.70,515.69 L160.30,515.79 L160.90,516.98 L161.50,516.28 L162.10,516.82 L162.70,516.30 L163.30,516.44 L163.90,516.46 L164.50,516.19 L165.10,516.94 L165.70,516.77 L166.30,516.32 L166.90,516.44 L167.50,517.17 L168.10,515.89 L168.70,516.79 L169.30,516.96 L169.90,517.20 L170.50,517.14 L171.10,516.01 L171.70,516.84 L172.30,516.25 L172.90,516.86 L173.50,516.53 L174.10,516.91 L174.70,516.13 L175.30,516.56 L175.90,516.76 L176.50,516.77 L177.10,516.97 L177.70,517.40 L178.30,516.06 L178.90,516.57 L179.50,515.70 L180.10,516.87 L180.70,517.37 L181.30,516.67 L181.90,517.18 L182.50,517.40 L183.10,516.82 L183.70,517.07 L184.30,517.10 L184.90,516.25 L185.50,516.02 L186.10,516.45 L186.70,516.22 L187.30,516.97 L187.90,515.53 L188.50,515.65 L189.10,515.75 L189.70,516.80 L190.30,516.57 L190.90,516.61 L191.50,516.53 L192.10,516.47 L192.70,516.33 L193.30,516.83 L193.90,516.63 L194.50,516.89 L195.10,516.71 L195.70,516.80 L196.30,516.78 L196.90,517.40 L197.50,517.40 L198.10,517.36 L198.70,515.83 L199.30,517.09 L199.90,517.40 L200.50,517.03 L201.10,516.03 L201.70,516.65 L202.30,517.40 L202.90,516.72 L203.50,516.07 L204.10,516.72 L204.70,517.33 L205.30,516.87 L205.90,516.25 L206.50,515.74 L207.10,516.95 L207.70,516.00 L208.30,517.35 L208.90,517.40 L209.50,517.07 L210.10,516.88 L210.70,516.84 L211.30,516.78 L211.90,516.54 L212.50,516.44 L213.10,516.45 L213.70,517.40 L214.30,517.40 L214.90,516.98 L215.50,517.25 L216.10,516.82 L216.70,517.06 L217.30,517.40 L217.90,517.40 L218.50,517.40 L219.10,517.39 L219.70,517.40 L220.30,516.69 L220.90,517.40 L221.50,516.21 L222.10,517.18 L222.70,517.26 L223.30,517.31 L223.90,516.12 L224.50,517.40 L225.10,516.49 L225.70,515.87 L226.30,517.06 L226.90,517.09 L227.50,516.30 L228.10,517.30 L228.70,517.07 L229.30,517.13 L229.90,516.51 L230.50,517.40 L231.10,517.21 L231.70,517.06 L232.30,516.59 L232.90,516.82 L233.50,517.04" fill="none" stroke="#151515" stroke-width="1.1" stroke-linejoin="round"/>
<line x1="37.90" y1="356.30" x2="37.90" y2="518.50" stroke="#000" stroke-width="1.6"/>
<line x1="36.50" y1="356.70" x2="39.30" y2="356.70" stroke="#000" stroke-width="0.8"/>
<text x="29.80" y="359.40" font-size="11" font-weight="bold" text-anchor="end" fill="#000" >64</text>
<text x="29.80" y="520.00" font-size="10.5" font-weight="bold" text-anchor="end" fill="#000" >0</text>
<text transform="translate(15.90,441.75) rotate(-90)" font-size="10" font-weight="bold" text-anchor="middle" fill="#000">Events</text>
<text x="31.10" y="533.10" font-size="10" font-weight="bold">10</text>
<text x="42.40" y="528.90" font-size="6.3" font-weight="bold">0</text>
<text x="78.40" y="534.00" font-size="10" font-weight="bold">10</text>
<text x="89.70" y="529.80" font-size="6.3" font-weight="bold">1</text>
<text x="128.10" y="534.90" font-size="10" font-weight="bold">10</text>
<text x="139.40" y="530.70" font-size="6.3" font-weight="bold">2</text>
<text x="177.50" y="535.80" font-size="10" font-weight="bold">10</text>
<text x="188.80" y="531.60" font-size="6.3" font-weight="bold">3</text>
<text x="228.40" y="536.70" font-size="10" font-weight="bold">10</text>
<text x="239.70" y="532.50" font-size="6.3" font-weight="bold">4</text>
<text x="126.30" y="428.70" font-size="10.5" font-weight="bold" text-anchor="start" fill="#000" textLength="15.3" lengthAdjust="spacingAndGlyphs">KO</text>
<path d="M38.00,736.50 L38.60,712.43 L39.20,706.02 L39.80,704.97 L40.40,703.03 L41.00,702.17 L41.60,696.08 L42.20,695.71 L42.80,696.23 L43.40,698.09 L44.00,700.98 L44.60,703.26 L45.20,701.70 L45.80,696.86 L46.40,694.61 L47.00,689.10 L47.60,682.03 L48.20,688.15 L48.80,682.61 L49.40,678.90 L50.00,678.00 L50.60,675.67 L51.20,673.56 L51.80,668.35 L52.40,666.04 L53.00,657.14 L53.60,659.28 L54.20,649.40 L54.80,649.61 L55.40,646.65 L56.00,642.97 L56.60,638.54 L57.20,637.72 L57.80,622.18 L58.40,625.41 L59.00,619.86 L59.60,615.33 L60.20,622.63 L60.80,619.75 L61.40,626.93 L62.00,625.86 L62.60,634.35 L63.20,630.95 L63.80,633.33 L64.40,645.91 L65.00,644.09 L65.60,644.20 L66.20,645.20 L66.80,639.84 L67.40,638.97 L68.00,640.71 L68.60,632.28 L69.20,637.05 L69.80,632.90 L70.40,642.34 L71.00,645.38 L71.60,658.73 L72.20,662.60 L72.80,663.11 L73.40,662.00 L74.00,666.92 L74.60,671.58 L75.20,673.10 L75.80,679.13 L76.40,683.58 L77.00,684.02 L77.60,684.93 L78.20,688.66 L78.80,688.80 L79.40,693.31 L80.00,693.86 L80.60,699.40 L81.20,698.11 L81.80,698.23 L82.40,702.42 L83.00,704.56 L83.60,707.47 L84.20,711.14 L84.80,713.26 L85.40,709.99 L86.00,713.28 L86.60,713.82 L87.20,714.48 L87.80,716.18 L88.40,714.04 L89.00,717.36 L89.60,718.00 L90.20,720.44 L90.80,722.27 L91.40,724.21 L92.00,725.64 L92.60,727.65 L93.20,729.70 L93.80,728.76 L94.40,728.79 L95.00,728.72 L95.60,727.76 L96.20,729.10 L96.80,730.89 L97.40,727.31 L98.00,729.86 L98.60,730.28 L99.20,729.71 L99.80,730.53 L100.40,731.48 L101.00,732.68 L101.60,731.97 L102.20,732.67 L102.80,731.51 L103.40,732.39 L104.00,731.98 L104.60,732.43 L105.20,731.90 L105.80,733.47 L106.40,734.62 L107.00,733.10 L107.60,733.82 L108.20,734.47 L108.80,734.01 L109.40,735.23 L110.00,734.64 L110.60,733.20 L111.20,733.41 L111.80,735.38 L112.40,735.29 L113.00,735.84 L113.60,734.91 L114.20,734.89 L114.80,732.93 L115.40,736.26 L116.00,733.71 L116.60,735.92 L117.20,733.53 L117.80,734.09 L118.40,735.03 L119.00,734.41 L119.60,734.14 L120.20,735.95 L120.80,735.35 L121.40,735.24 L122.00,734.91 L122.60,734.70 L123.20,734.91 L123.80,734.92 L124.40,735.21 L125.00,735.65 L125.60,735.22 L126.20,734.94 L126.80,735.06 L127.40,736.06 L128.00,735.53 L128.60,735.60 L129.20,735.66 L129.80,735.85 L130.40,735.66 L131.00,736.22 L131.60,736.07 L132.20,734.27 L132.80,735.65 L133.40,736.50 L134.00,735.14 L134.60,735.87 L135.20,736.38 L135.80,735.86 L136.40,736.50 L137.00,735.27 L137.60,735.30 L138.20,735.85 L138.80,735.60 L139.40,735.44 L140.00,736.28 L140.60,736.14 L141.20,736.01 L141.80,735.80 L142.40,736.14 L143.00,735.95 L143.60,735.64 L144.20,736.27 L144.80,736.20 L145.40,736.06 L146.00,736.37 L146.60,735.47 L147.20,735.95 L147.80,735.76 L148.40,736.50 L149.00,736.28 L149.60,736.50 L150.20,736.50 L150.80,735.85 L151.40,735.49 L152.00,736.28 L152.60,735.90 L153.20,735.97 L153.80,735.52 L154.40,736.35 L155.00,736.15 L155.60,736.26 L156.20,736.22 L156.80,735.61 L157.40,734.95 L158.00,735.93 L158.60,735.75 L159.20,735.81 L159.80,736.50 L160.40,736.03 L161.00,736.50 L161.60,736.18 L162.20,736.43 L162.80,736.35 L163.40,736.50 L164.00,735.47 L164.60,736.50 L165.20,736.16 L165.80,735.62 L166.40,736.42 L167.00,736.29 L167.60,736.50 L168.20,736.49 L168.80,736.31 L169.40,735.32 L170.00,736.50 L170.60,736.50 L171.20,736.50 L171.80,736.38 L172.40,736.50 L173.00,735.72 L173.60,736.50 L174.20,736.17 L174.80,735.66 L175.40,736.35 L176.00,736.35 L176.60,736.50 L177.20,736.50 L177.80,735.38 L178.40,735.21 L179.00,736.15 L179.60,736.09 L180.20,735.73 L180.80,735.48 L181.40,736.11 L182.00,735.63 L182.60,735.87 L183.20,736.50 L183.80,736.34 L184.40,735.85 L185.00,735.67 L185.60,736.14 L186.20,736.50 L186.80,735.99 L187.40,736.50 L188.00,735.86 L188.60,736.15 L189.20,736.50 L189.80,735.88 L190.40,736.30 L191.00,735.60 L191.60,736.50 L192.20,736.50 L192.80,735.96 L193.40,736.38 L194.00,736.09 L194.60,735.22 L195.20,736.50 L195.80,736.50 L196.40,736.50 L197.00,736.50 L197.60,736.40 L198.20,736.50 L198.80,735.41 L199.40,736.17 L200.00,736.12 L200.60,736.23 L201.20,736.50 L201.80,735.98 L202.40,735.68 L203.00,735.79 L203.60,736.50 L204.20,736.50 L204.80,736.50 L205.40,736.50 L206.00,736.11 L206.60,736.50 L207.20,736.50 L207.80,736.30 L208.40,736.01 L209.00,736.50 L209.60,736.05 L210.20,736.25 L210.80,735.91 L211.40,736.50 L212.00,736.38 L212.60,736.16 L213.20,736.29 L213.80,736.30 L214.40,736.46 L215.00,735.57 L215.60,735.84 L216.20,736.50 L216.80,736.50 L217.40,735.93 L218.00,736.49 L218.60,736.15 L219.20,735.30 L219.80,736.29 L220.40,735.90 L221.00,736.50 L221.60,736.35 L222.20,736.44 L222.80,735.73 L223.40,736.50 L224.00,735.49 L224.60,736.50 L225.20,736.50 L225.80,735.86 L226.40,736.50 L227.00,736.50 L227.60,736.38 L228.20,736.50 L228.80,736.50 L229.40,736.24 L230.00,735.48 L230.60,735.95 L231.20,735.74 L231.80,736.50 L232.40,736.50 L233.00,736.41 L233.60,735.82 L234.20,736.50 L234.80,735.92 L235.00,736.50 Z" fill="#8f8f8f" stroke="#6e6e6e" stroke-width="0.7"/>
<path d="M38.60,724.85 L39.20,725.24 L39.80,724.94 L40.40,725.73 L41.00,723.47 L41.60,723.76 L42.20,723.51 L42.80,723.73 L43.40,726.10 L44.00,725.27 L44.60,724.04 L45.20,724.19 L45.80,726.47 L46.40,723.97 L47.00,724.63 L47.60,725.75 L48.20,726.59 L48.80,726.64 L49.40,724.64 L50.00,723.80 L50.60,723.99 L51.20,725.66 L51.80,725.44 L52.40,726.53 L53.00,726.14 L53.60,726.41 L54.20,724.08 L54.80,724.00 L55.40,725.21 L56.00,725.68 L56.60,724.36 L57.20,726.64 L57.80,723.33 L58.40,724.99 L59.00,724.05 L59.60,725.47 L60.20,725.51 L60.80,724.52 L61.40,725.21 L62.00,726.17 L62.60,723.88 L63.20,723.74 L63.80,723.42 L64.40,724.03 L65.00,723.26 L65.60,722.30 L66.20,724.96 L66.80,722.78 L67.40,721.50 L68.00,724.56 L68.60,722.56 L69.20,724.47 L69.80,725.06 L70.40,722.67 L71.00,722.33 L71.60,724.67 L72.20,721.30 L72.80,721.54 L73.40,721.70 L74.00,721.38 L74.60,723.29 L75.20,721.37 L75.80,719.12 L76.40,722.36 L77.00,721.07 L77.60,719.84 L78.20,721.68 L78.80,720.37 L79.40,719.93 L80.00,718.15 L80.60,718.62 L81.20,720.17 L81.80,718.62 L82.40,716.83 L83.00,714.54 L83.60,715.59 L84.20,714.05 L84.80,713.85 L85.40,712.28 L86.00,711.40 L86.60,709.30 L87.20,708.96 L87.80,707.18 L88.40,706.89 L89.00,704.66 L89.60,701.74 L90.20,696.84 L90.80,695.86 L91.40,692.58 L92.00,689.24 L92.60,686.51 L93.20,681.22 L93.80,672.34 L94.40,671.71 L95.00,667.21 L95.60,667.04 L96.20,663.88 L96.80,655.95 L97.40,653.21 L98.00,656.47 L98.60,652.93 L99.20,650.69 L99.80,649.91 L100.40,645.73 L101.00,642.37 L101.60,637.55 L102.20,641.70 L102.80,630.02 L103.40,635.58 L104.00,628.76 L104.60,629.94 L105.20,626.12 L105.80,626.76 L106.40,630.77 L107.00,626.27 L107.60,623.32 L108.20,627.87 L108.80,624.50 L109.40,630.72 L110.00,632.40 L110.60,637.78 L111.20,636.79 L111.80,640.65 L112.40,636.99 L113.00,643.23 L113.60,644.19 L114.20,649.55 L114.80,655.19 L115.40,653.51 L116.00,655.43 L116.60,653.57 L117.20,658.62 L117.80,669.40 L118.40,666.58 L119.00,672.35 L119.60,675.95 L120.20,679.86 L120.80,680.42 L121.40,685.08 L122.00,689.23 L122.60,692.96 L123.20,692.35 L123.80,693.88 L124.40,699.05 L125.00,701.70 L125.60,702.36 L126.20,706.19 L126.80,707.34 L127.40,708.58 L128.00,707.53 L128.60,711.66 L129.20,713.09 L129.80,713.59 L130.40,716.90 L131.00,717.64 L131.60,719.33 L132.20,720.73 L132.80,724.01 L133.40,723.64 L134.00,722.17 L134.60,725.79 L135.20,725.23 L135.80,728.18 L136.40,728.50 L137.00,729.97 L137.60,730.25 L138.20,728.90 L138.80,728.97 L139.40,730.08 L140.00,730.50 L140.60,731.87 L141.20,733.62 L141.80,731.60 L142.40,733.93 L143.00,732.71 L143.60,733.14 L144.20,731.68 L144.80,733.15 L145.40,733.98 L146.00,733.13 L146.60,732.60 L147.20,733.46 L147.80,734.74 L148.40,734.55 L149.00,732.87 L149.60,734.68 L150.20,733.50 L150.80,733.30 L151.40,735.39 L152.00,734.45 L152.60,734.17 L153.20,734.03 L153.80,730.71 L154.40,735.23 L155.00,735.90 L155.60,731.44 L156.20,731.49 L156.80,734.19 L157.40,735.01 L158.00,734.72 L158.60,734.85 L159.20,734.19 L159.80,734.10 L160.40,734.81 L161.00,733.96 L161.60,735.26 L162.20,735.00 L162.80,734.59 L163.40,734.26 L164.00,735.48 L164.60,734.64 L165.20,733.77 L165.80,734.24 L166.40,733.70 L167.00,735.12 L167.60,734.15 L168.20,734.71 L168.80,734.97 L169.40,735.41 L170.00,734.03 L170.60,735.11 L171.20,734.57 L171.80,734.75 L172.40,733.70 L173.00,734.90 L173.60,734.99 L174.20,735.06 L174.80,735.23 L175.40,734.54 L176.00,734.11 L176.60,735.29 L177.20,734.29 L177.80,735.90 L178.40,734.83 L179.00,733.99 L179.60,735.47 L180.20,734.99 L180.80,734.72 L181.40,734.84 L182.00,734.96 L182.60,734.39 L183.20,735.69 L183.80,735.79 L184.40,735.22 L185.00,734.83 L185.60,735.38 L186.20,735.79 L186.80,735.49 L187.40,735.15 L188.00,735.47 L188.60,734.68 L189.20,735.75 L189.80,735.90 L190.40,735.76 L191.00,735.84 L191.60,735.64 L192.20,734.71 L192.80,735.90 L193.40,735.90 L194.00,734.90 L194.60,735.30 L195.20,735.86 L195.80,735.71 L196.40,734.92 L197.00,734.93 L197.60,734.87 L198.20,735.65 L198.80,735.90 L199.40,735.90 L200.00,735.37 L200.60,735.67 L201.20,735.27 L201.80,735.90 L202.40,735.56 L203.00,735.38 L203.60,735.90 L204.20,735.54 L204.80,735.39 L205.40,735.05 L206.00,735.54 L206.60,735.90 L207.20,735.01 L207.80,735.90 L208.40,735.01 L209.00,735.16 L209.60,735.90 L210.20,735.11 L210.80,735.45 L211.40,735.41 L212.00,735.90 L212.60,735.89 L213.20,735.38 L213.80,735.43 L214.40,735.85 L215.00,735.29 L215.60,735.90 L216.20,735.90 L216.80,735.90 L217.40,735.14 L218.00,735.90 L218.60,735.70 L219.20,735.90 L219.80,735.90 L220.40,735.64 L221.00,734.77 L221.60,735.90 L222.20,735.33 L222.80,735.90 L223.40,735.90 L224.00,735.90 L224.60,735.25 L225.20,735.90 L225.80,735.44 L226.40,735.63 L227.00,735.90 L227.60,735.70 L228.20,735.75 L228.80,735.08 L229.40,735.80 L230.00,734.56 L230.60,735.90 L231.20,735.90 L231.80,735.82 L232.40,735.27 L233.00,735.90 L233.60,735.70 L234.20,735.50 L234.80,735.76" fill="none" stroke="#151515" stroke-width="1.1" stroke-linejoin="round"/>
<line x1="38.00" y1="573.50" x2="38.00" y2="737.00" stroke="#000" stroke-width="1.6"/>
<line x1="36.60" y1="573.90" x2="39.40" y2="573.90" stroke="#000" stroke-width="0.8"/>
<text x="29.80" y="575.90" font-size="11" font-weight="bold" text-anchor="end" fill="#000" >64</text>
<text x="29.50" y="739.60" font-size="10.5" font-weight="bold" text-anchor="end" fill="#000" >0</text>
<text transform="translate(15.90,649.00) rotate(-90)" font-size="10" font-weight="bold" text-anchor="middle" fill="#000">Events</text>
<text x="29.30" y="753.80" font-size="10" font-weight="bold">10</text>
<text x="40.60" y="749.60" font-size="6.3" font-weight="bold">0</text>
<text x="76.10" y="754.70" font-size="10" font-weight="bold">10</text>
<text x="87.40" y="750.50" font-size="6.3" font-weight="bold">1</text>
<text x="126.90" y="755.60" font-size="10" font-weight="bold">10</text>
<text x="138.20" y="751.40" font-size="6.3" font-weight="bold">2</text>
<text x="175.80" y="756.50" font-size="10" font-weight="bold">10</text>
<text x="187.10" y="752.30" font-size="6.3" font-weight="bold">3</text>
<text x="225.90" y="757.40" font-size="10" font-weight="bold">10</text>
<text x="237.20" y="753.20" font-size="6.3" font-weight="bold">4</text>
<text x="141.90" y="643.10" font-size="10.5" font-weight="bold" text-anchor="start" fill="#000" textLength="72.1" lengthAdjust="spacingAndGlyphs">KO + S100A10</text>
<path d="M35.50,959.50 L36.10,942.86 L36.70,938.82 L37.30,933.37 L37.90,931.90 L38.50,926.79 L39.10,924.52 L39.70,924.19 L40.30,917.64 L40.90,915.64 L41.50,916.56 L42.10,916.75 L42.70,914.38 L43.30,918.25 L43.90,920.10 L44.50,918.06 L45.10,909.34 L45.70,902.85 L46.30,897.80 L46.90,891.88 L47.50,890.99 L48.10,888.06 L48.70,883.19 L49.30,880.31 L49.90,875.09 L50.50,875.16 L51.10,873.07 L51.70,872.63 L52.30,866.23 L52.90,864.32 L53.50,858.20 L54.10,862.98 L54.70,860.17 L55.30,863.39 L55.90,869.49 L56.50,859.42 L57.10,865.00 L57.70,862.38 L58.30,857.10 L58.90,854.31 L59.50,850.89 L60.10,856.40 L60.70,859.96 L61.30,861.89 L61.90,865.37 L62.50,868.65 L63.10,874.61 L63.70,875.02 L64.30,880.87 L64.90,876.27 L65.50,880.31 L66.10,882.31 L66.70,880.97 L67.30,891.69 L67.90,884.61 L68.50,891.22 L69.10,892.09 L69.70,899.39 L70.30,895.99 L70.90,906.08 L71.50,905.68 L72.10,908.22 L72.70,909.12 L73.30,913.78 L73.90,913.07 L74.50,916.92 L75.10,918.99 L75.70,922.80 L76.30,918.14 L76.90,926.76 L77.50,928.20 L78.10,927.91 L78.70,930.28 L79.30,931.16 L79.90,936.47 L80.50,937.31 L81.10,939.19 L81.70,940.86 L82.30,941.76 L82.90,943.01 L83.50,943.73 L84.10,948.46 L84.70,945.32 L85.30,944.20 L85.90,948.60 L86.50,949.40 L87.10,950.90 L87.70,951.11 L88.30,951.80 L88.90,952.58 L89.50,953.53 L90.10,952.28 L90.70,952.72 L91.30,955.65 L91.90,954.48 L92.50,953.15 L93.10,957.08 L93.70,955.60 L94.30,954.21 L94.90,953.68 L95.50,955.45 L96.10,954.38 L96.70,954.32 L97.30,954.24 L97.90,955.27 L98.50,957.19 L99.10,955.60 L99.70,954.53 L100.30,956.91 L100.90,956.30 L101.50,957.22 L102.10,957.68 L102.70,956.25 L103.30,956.36 L103.90,956.56 L104.50,955.45 L105.10,957.53 L105.70,958.39 L106.30,957.17 L106.90,956.81 L107.50,956.88 L108.10,956.39 L108.70,956.45 L109.30,956.97 L109.90,956.56 L110.50,957.07 L111.10,955.87 L111.70,958.04 L112.30,957.75 L112.90,956.44 L113.50,955.18 L114.10,957.71 L114.70,958.94 L115.30,956.93 L115.90,957.21 L116.50,957.13 L117.10,958.48 L117.70,956.77 L118.30,958.87 L118.90,957.46 L119.50,958.83 L120.10,957.86 L120.70,957.58 L121.30,956.22 L121.90,957.10 L122.50,957.59 L123.10,958.61 L123.70,958.17 L124.30,957.15 L124.90,958.38 L125.50,959.03 L126.10,957.80 L126.70,957.49 L127.30,957.56 L127.90,958.41 L128.50,958.29 L129.10,957.57 L129.70,958.24 L130.30,957.83 L130.90,957.71 L131.50,958.72 L132.10,958.52 L132.70,957.76 L133.30,958.18 L133.90,958.40 L134.50,957.84 L135.10,958.12 L135.70,958.52 L136.30,957.31 L136.90,958.38 L137.50,958.59 L138.10,958.49 L138.70,957.57 L139.30,958.41 L139.90,957.83 L140.50,958.56 L141.10,958.58 L141.70,958.39 L142.30,957.91 L142.90,958.00 L143.50,958.73 L144.10,957.86 L144.70,958.56 L145.30,958.57 L145.90,958.17 L146.50,959.50 L147.10,958.35 L147.70,959.39 L148.30,957.32 L148.90,957.21 L149.50,958.82 L150.10,958.65 L150.70,958.18 L151.30,958.31 L151.90,957.39 L152.50,958.03 L153.10,957.84 L153.70,958.25 L154.30,958.80 L154.90,958.39 L155.50,958.55 L156.10,958.02 L156.70,958.16 L157.30,958.44 L157.90,958.24 L158.50,959.02 L159.10,957.96 L159.70,959.34 L160.30,957.91 L160.90,958.94 L161.50,958.03 L162.10,959.24 L162.70,958.49 L163.30,958.63 L163.90,958.80 L164.50,958.12 L165.10,957.92 L165.70,957.43 L166.30,959.06 L166.90,958.11 L167.50,958.17 L168.10,958.45 L168.70,959.47 L169.30,957.61 L169.90,958.61 L170.50,958.29 L171.10,958.76 L171.70,957.60 L172.30,958.31 L172.90,958.93 L173.50,959.30 L174.10,959.32 L174.70,958.10 L175.30,958.56 L175.90,958.49 L176.50,957.86 L177.10,957.83 L177.70,958.94 L178.30,958.69 L178.90,958.50 L179.50,959.19 L180.10,958.08 L180.70,958.85 L181.30,958.60 L181.90,958.57 L182.50,958.85 L183.10,958.70 L183.70,958.75 L184.30,958.76 L184.90,959.50 L185.50,958.48 L186.10,959.15 L186.70,958.96 L187.30,958.48 L187.90,959.06 L188.50,958.24 L189.10,959.26 L189.70,958.28 L190.30,958.44 L190.90,958.86 L191.50,959.12 L192.10,959.16 L192.70,959.16 L193.30,958.62 L193.90,958.25 L194.50,959.01 L195.10,958.89 L195.70,958.27 L196.30,959.24 L196.90,958.86 L197.50,958.28 L198.10,958.99 L198.70,958.11 L199.30,958.34 L199.90,958.99 L200.50,958.01 L201.10,958.82 L201.70,958.13 L202.30,959.18 L202.90,958.45 L203.50,958.91 L204.10,958.07 L204.70,958.66 L205.30,959.31 L205.90,959.07 L206.50,957.93 L207.10,959.31 L207.70,959.30 L208.30,958.67 L208.90,959.50 L209.50,958.34 L210.10,958.83 L210.70,959.44 L211.30,959.50 L211.90,959.50 L212.50,958.35 L213.10,958.01 L213.70,959.10 L214.30,958.19 L214.90,958.85 L215.50,958.28 L216.10,959.45 L216.70,959.33 L217.30,959.21 L217.90,958.94 L218.50,958.96 L219.10,958.79 L219.70,959.14 L220.30,959.08 L220.90,959.18 L221.50,958.74 L222.10,959.50 L222.70,959.11 L223.30,959.50 L223.90,959.50 L224.50,958.53 L225.10,958.13 L225.70,959.50 L226.30,958.79 L226.90,959.03 L227.50,958.86 L228.10,959.06 L228.70,958.40 L229.30,958.95 L229.90,958.77 L230.00,959.50 Z" fill="#8f8f8f" stroke="#6e6e6e" stroke-width="0.7"/>
<path d="M36.10,949.61 L36.70,949.24 L37.30,949.21 L37.90,948.05 L38.50,950.20 L39.10,950.81 L39.70,950.15 L40.30,950.48 L40.90,949.67 L41.50,953.67 L42.10,953.22 L42.70,952.95 L43.30,954.08 L43.90,953.79 L44.50,953.52 L45.10,953.18 L45.70,953.48 L46.30,953.92 L46.90,954.33 L47.50,954.36 L48.10,953.86 L48.70,954.43 L49.30,953.21 L49.90,951.65 L50.50,951.74 L51.10,954.38 L51.70,951.55 L52.30,952.49 L52.90,953.41 L53.50,954.46 L54.10,951.17 L54.70,952.35 L55.30,952.89 L55.90,953.16 L56.50,954.19 L57.10,955.29 L57.70,955.25 L58.30,957.85 L58.90,956.57 L59.50,953.20 L60.10,952.92 L60.70,954.19 L61.30,953.99 L61.90,955.40 L62.50,954.73 L63.10,954.79 L63.70,953.72 L64.30,954.10 L64.90,953.93 L65.50,953.17 L66.10,953.94 L66.70,951.52 L67.30,953.93 L67.90,953.28 L68.50,955.54 L69.10,951.91 L69.70,949.95 L70.30,950.68 L70.90,950.92 L71.50,950.05 L72.10,949.36 L72.70,950.21 L73.30,948.98 L73.90,951.73 L74.50,948.63 L75.10,950.84 L75.70,951.16 L76.30,950.39 L76.90,951.30 L77.50,950.08 L78.10,950.49 L78.70,948.46 L79.30,947.95 L79.90,948.58 L80.50,949.12 L81.10,949.80 L81.70,947.04 L82.30,947.38 L82.90,946.90 L83.50,948.38 L84.10,946.57 L84.70,948.23 L85.30,946.38 L85.90,945.82 L86.50,945.85 L87.10,944.74 L87.70,943.70 L88.30,946.00 L88.90,945.80 L89.50,949.00 L90.10,947.13 L90.70,947.65 L91.30,946.83 L91.90,946.61 L92.50,945.41 L93.10,945.87 L93.70,949.16 L94.30,947.26 L94.90,947.46 L95.50,948.39 L96.10,944.65 L96.70,941.45 L97.30,941.91 L97.90,940.34 L98.50,939.98 L99.10,940.47 L99.70,940.29 L100.30,940.59 L100.90,939.57 L101.50,937.07 L102.10,936.95 L102.70,935.17 L103.30,936.56 L103.90,937.59 L104.50,935.37 L105.10,936.00 L105.70,931.96 L106.30,927.74 L106.90,924.84 L107.50,920.55 L108.10,921.35 L108.70,918.16 L109.30,914.30 L109.90,907.34 L110.50,903.09 L111.10,899.81 L111.70,893.21 L112.30,885.61 L112.90,880.62 L113.50,872.69 L114.10,863.98 L114.70,864.20 L115.30,855.98 L115.90,858.67 L116.50,855.44 L117.10,847.50 L117.70,854.87 L118.30,842.11 L118.90,835.05 L119.50,824.43 L120.10,832.25 L120.70,838.15 L121.30,837.96 L121.90,827.71 L122.50,829.28 L123.10,826.23 L123.70,834.22 L124.30,836.00 L124.90,852.43 L125.50,854.60 L126.10,846.88 L126.70,854.13 L127.30,863.12 L127.90,867.71 L128.50,873.23 L129.10,879.12 L129.70,887.43 L130.30,895.08 L130.90,895.23 L131.50,896.64 L132.10,899.51 L132.70,896.96 L133.30,904.73 L133.90,906.17 L134.50,911.34 L135.10,920.14 L135.70,921.78 L136.30,921.89 L136.90,925.27 L137.50,923.81 L138.10,925.29 L138.70,925.26 L139.30,926.69 L139.90,928.82 L140.50,930.84 L141.10,930.18 L141.70,934.35 L142.30,933.44 L142.90,935.00 L143.50,937.99 L144.10,937.43 L144.70,939.18 L145.30,940.82 L145.90,941.68 L146.50,941.48 L147.10,944.33 L147.70,944.14 L148.30,944.42 L148.90,944.96 L149.50,946.78 L150.10,946.45 L150.70,949.56 L151.30,950.00 L151.90,950.71 L152.50,952.19 L153.10,952.63 L153.70,951.17 L154.30,955.19 L154.90,951.48 L155.50,953.99 L156.10,952.57 L156.70,955.01 L157.30,955.45 L157.90,954.89 L158.50,957.22 L159.10,957.00 L159.70,957.22 L160.30,957.07 L160.90,958.67 L161.50,958.21 L162.10,958.90 L162.70,958.06 L163.30,958.90 L163.90,958.63 L164.50,958.90 L165.10,958.60 L165.70,958.77 L166.30,958.90 L166.90,958.78 L167.50,958.90 L168.10,958.72 L168.70,958.68 L169.30,958.90 L169.90,958.90 L170.50,958.35 L171.10,958.67 L171.70,958.90 L172.30,958.85 L172.90,958.90 L173.50,958.24 L174.10,958.90 L174.70,958.45 L175.30,958.64 L175.90,958.52 L176.50,958.41 L177.10,958.90 L177.70,958.90 L178.30,958.90 L178.90,958.90 L179.50,958.90 L180.10,958.56 L180.70,958.20 L181.30,958.90 L181.90,958.37 L182.50,958.90 L183.10,958.39 L183.70,958.72 L184.30,958.90 L184.90,958.31 L185.50,958.71 L186.10,958.90 L186.70,958.14 L187.30,958.81 L187.90,958.17 L188.50,958.78 L189.10,958.90 L189.70,958.90 L190.30,958.77 L190.90,958.77 L191.50,958.51 L192.10,958.90 L192.70,958.90 L193.30,958.20 L193.90,958.42 L194.50,958.25 L195.10,958.90 L195.70,958.90 L196.30,958.90 L196.90,958.90 L197.50,958.90 L198.10,958.90 L198.70,958.90 L199.30,958.65 L199.90,958.90 L200.50,958.90 L201.10,957.86 L201.70,958.90 L202.30,958.87 L202.90,958.90 L203.50,958.90 L204.10,958.90 L204.70,958.90 L205.30,958.90 L205.90,958.66 L206.50,958.90 L207.10,958.90 L207.70,958.46 L208.30,958.86 L208.90,958.67 L209.50,958.90 L210.10,958.90 L210.70,958.90 L211.30,958.90 L211.90,958.62 L212.50,958.79 L213.10,958.87 L213.70,958.52 L214.30,958.90 L214.90,958.61 L215.50,958.59 L216.10,958.90 L216.70,958.58 L217.30,958.90 L217.90,958.90 L218.50,958.90 L219.10,958.90 L219.70,958.90 L220.30,958.64 L220.90,958.90 L221.50,958.90 L222.10,958.80 L222.70,958.87 L223.30,958.90 L223.90,958.90 L224.50,958.81 L225.10,958.90 L225.70,958.54 L226.30,958.90 L226.90,958.58 L227.50,958.90 L228.10,958.90 L228.70,958.57 L229.30,958.90 L229.90,958.27" fill="none" stroke="#151515" stroke-width="1.1" stroke-linejoin="round"/>
<line x1="35.50" y1="804.20" x2="35.50" y2="960.00" stroke="#000" stroke-width="1.6"/>
<line x1="34.10" y1="804.60" x2="36.90" y2="804.60" stroke="#000" stroke-width="0.8"/>
<text x="26.50" y="798.50" font-size="11" font-weight="bold" text-anchor="end" fill="#000" >64</text>
<text x="25.70" y="962.00" font-size="10.5" font-weight="bold" text-anchor="end" fill="#000" >0</text>
<text transform="translate(12.70,871.25) rotate(-90)" font-size="10" font-weight="bold" text-anchor="middle" fill="#000">Events</text>
<text x="25.70" y="976.90" font-size="10" font-weight="bold">10</text>
<text x="37.00" y="972.70" font-size="6.3" font-weight="bold">0</text>
<text x="72.30" y="977.80" font-size="10" font-weight="bold">10</text>
<text x="83.60" y="973.60" font-size="6.3" font-weight="bold">1</text>
<text x="123.35" y="978.70" font-size="10" font-weight="bold">10</text>
<text x="134.65" y="974.50" font-size="6.3" font-weight="bold">2</text>
<text x="172.10" y="979.60" font-size="10" font-weight="bold">10</text>
<text x="183.40" y="975.40" font-size="6.3" font-weight="bold">3</text>
<text x="222.60" y="980.50" font-size="10" font-weight="bold">10</text>
<text x="233.90" y="976.30" font-size="6.3" font-weight="bold">4</text>
<text x="160.90" y="854.90" font-size="10.7" font-weight="bold" text-anchor="start" fill="#000" textLength="17.5" lengthAdjust="spacingAndGlyphs">WT</text>
<path d="M33.50,1187.50 L34.10,1162.67 L34.70,1162.31 L35.30,1158.69 L35.90,1156.32 L36.50,1154.29 L37.10,1151.95 L37.70,1151.45 L38.30,1145.13 L38.90,1146.87 L39.50,1151.68 L40.10,1156.60 L40.70,1153.76 L41.30,1148.79 L41.90,1143.13 L42.50,1138.55 L43.10,1139.54 L43.70,1134.87 L44.30,1127.30 L44.90,1127.81 L45.50,1123.48 L46.10,1121.84 L46.70,1123.56 L47.30,1116.79 L47.90,1109.00 L48.50,1110.90 L49.10,1106.20 L49.70,1096.46 L50.30,1088.40 L50.90,1083.37 L51.50,1083.11 L52.10,1079.23 L52.70,1077.54 L53.30,1079.99 L53.90,1072.70 L54.50,1074.97 L55.10,1078.98 L55.70,1083.70 L56.30,1076.85 L56.90,1079.77 L57.50,1069.27 L58.10,1067.79 L58.70,1070.90 L59.30,1070.58 L59.90,1073.70 L60.50,1079.07 L61.10,1081.82 L61.70,1081.49 L62.30,1082.13 L62.90,1088.75 L63.50,1089.00 L64.10,1089.91 L64.70,1095.51 L65.30,1091.41 L65.90,1095.84 L66.50,1099.28 L67.10,1099.72 L67.70,1099.72 L68.30,1106.35 L68.90,1110.86 L69.50,1116.22 L70.10,1117.10 L70.70,1123.64 L71.30,1121.66 L71.90,1126.86 L72.50,1126.50 L73.10,1128.23 L73.70,1134.34 L74.30,1137.99 L74.90,1141.03 L75.50,1140.14 L76.10,1144.95 L76.70,1149.20 L77.30,1151.51 L77.90,1154.81 L78.50,1157.19 L79.10,1156.56 L79.70,1160.23 L80.30,1156.90 L80.90,1159.83 L81.50,1157.86 L82.10,1164.14 L82.70,1165.46 L83.30,1169.29 L83.90,1168.08 L84.50,1166.98 L85.10,1171.66 L85.70,1170.01 L86.30,1171.35 L86.90,1173.70 L87.50,1175.48 L88.10,1174.77 L88.70,1176.10 L89.30,1174.60 L89.90,1179.45 L90.50,1178.36 L91.10,1179.34 L91.70,1180.41 L92.30,1180.23 L92.90,1180.56 L93.50,1179.70 L94.10,1181.04 L94.70,1182.11 L95.30,1183.24 L95.90,1182.38 L96.50,1182.97 L97.10,1183.50 L97.70,1183.86 L98.30,1183.50 L98.90,1183.05 L99.50,1182.83 L100.10,1184.70 L100.70,1183.86 L101.30,1183.65 L101.90,1187.50 L102.50,1184.77 L103.10,1184.83 L103.70,1184.16 L104.30,1182.97 L104.90,1185.42 L105.50,1184.17 L106.10,1184.40 L106.70,1185.55 L107.30,1185.62 L107.90,1184.83 L108.50,1184.64 L109.10,1186.97 L109.70,1185.33 L110.30,1183.60 L110.90,1185.58 L111.50,1184.94 L112.10,1184.84 L112.70,1185.59 L113.30,1185.13 L113.90,1187.11 L114.50,1185.16 L115.10,1185.26 L115.70,1186.30 L116.30,1184.44 L116.90,1186.22 L117.50,1185.09 L118.10,1186.50 L118.70,1184.31 L119.30,1185.76 L119.90,1183.59 L120.50,1184.91 L121.10,1185.46 L121.70,1186.04 L122.30,1187.50 L122.90,1187.50 L123.50,1184.18 L124.10,1184.87 L124.70,1187.13 L125.30,1186.29 L125.90,1184.35 L126.50,1186.44 L127.10,1184.71 L127.70,1185.05 L128.30,1185.41 L128.90,1185.95 L129.50,1187.25 L130.10,1186.35 L130.70,1186.14 L131.30,1187.49 L131.90,1186.03 L132.50,1186.22 L133.10,1186.19 L133.70,1186.56 L134.30,1186.22 L134.90,1187.12 L135.50,1186.26 L136.10,1186.68 L136.70,1186.52 L137.30,1185.98 L137.90,1185.92 L138.50,1186.39 L139.10,1185.27 L139.70,1186.42 L140.30,1186.46 L140.90,1186.49 L141.50,1186.38 L142.10,1186.60 L142.70,1186.25 L143.30,1186.75 L143.90,1185.62 L144.50,1186.89 L145.10,1186.00 L145.70,1186.68 L146.30,1186.21 L146.90,1186.23 L147.50,1186.05 L148.10,1187.12 L148.70,1185.91 L149.30,1185.85 L149.90,1186.57 L150.50,1186.59 L151.10,1186.49 L151.70,1185.99 L152.30,1186.15 L152.90,1186.93 L153.50,1185.96 L154.10,1186.79 L154.70,1186.85 L155.30,1186.56 L155.90,1185.89 L156.50,1187.45 L157.10,1186.56 L157.70,1186.60 L158.30,1186.32 L158.90,1186.04 L159.50,1186.38 L160.10,1186.62 L160.70,1186.10 L161.30,1186.58 L161.90,1187.10 L162.50,1186.75 L163.10,1186.49 L163.70,1187.06 L164.30,1187.00 L164.90,1187.00 L165.50,1186.16 L166.10,1185.65 L166.70,1186.96 L167.30,1186.59 L167.90,1186.38 L168.50,1186.81 L169.10,1186.35 L169.70,1186.27 L170.30,1187.48 L170.90,1185.80 L171.50,1187.01 L172.10,1187.10 L172.70,1187.49 L173.30,1186.73 L173.90,1186.86 L174.50,1186.16 L175.10,1186.63 L175.70,1185.58 L176.30,1186.35 L176.90,1186.62 L177.50,1186.58 L178.10,1186.40 L178.70,1187.23 L179.30,1185.86 L179.90,1186.72 L180.50,1186.46 L181.10,1186.68 L181.70,1186.70 L182.30,1187.50 L182.90,1186.15 L183.50,1187.35 L184.10,1187.38 L184.70,1186.63 L185.30,1186.39 L185.90,1186.08 L186.50,1186.28 L187.10,1187.50 L187.70,1185.64 L188.30,1186.94 L188.90,1186.38 L189.50,1187.50 L190.10,1186.89 L190.70,1186.06 L191.30,1186.48 L191.90,1186.84 L192.50,1186.81 L193.10,1186.28 L193.70,1186.62 L194.30,1186.53 L194.90,1187.01 L195.50,1186.91 L196.10,1186.89 L196.70,1186.49 L197.30,1187.18 L197.90,1186.51 L198.50,1186.38 L199.10,1186.58 L199.70,1186.64 L200.30,1186.65 L200.90,1185.85 L201.50,1187.49 L202.10,1187.13 L202.70,1187.48 L203.30,1186.63 L203.90,1187.21 L204.50,1186.94 L205.10,1186.85 L205.70,1187.50 L206.30,1186.55 L206.90,1187.14 L207.50,1185.99 L208.10,1187.14 L208.70,1186.78 L209.30,1186.36 L209.90,1186.58 L210.50,1185.82 L211.10,1186.35 L211.70,1186.97 L212.30,1185.57 L212.90,1187.43 L213.50,1187.38 L214.10,1186.52 L214.70,1186.16 L215.30,1186.21 L215.90,1186.27 L216.50,1186.54 L217.10,1187.50 L217.70,1186.36 L218.30,1187.30 L218.90,1187.50 L219.50,1186.46 L220.10,1186.80 L220.70,1187.27 L221.30,1186.61 L221.90,1187.50 L222.50,1187.50 L223.10,1186.92 L223.70,1186.54 L224.30,1187.25 L224.90,1187.12 L225.50,1186.58 L226.10,1186.89 L226.70,1187.01 L227.30,1187.22 L227.90,1187.50 L228.50,1186.73 L229.10,1186.33 L229.70,1186.17 L230.30,1187.50 L230.90,1186.77 L231.50,1186.78 L232.10,1187.50 L232.70,1187.50 L233.30,1187.50 L233.90,1186.90 L234.50,1186.65 L235.10,1186.73 L235.70,1187.32 L236.30,1187.21 L236.90,1187.20 L237.50,1187.50 L237.50,1187.50 Z" fill="#8f8f8f" stroke="#6e6e6e" stroke-width="0.7"/>
<path d="M34.10,1167.27 L34.70,1167.62 L35.30,1167.26 L35.90,1164.71 L36.50,1163.34 L37.10,1167.15 L37.70,1165.85 L38.30,1166.59 L38.90,1169.54 L39.50,1171.41 L40.10,1171.74 L40.70,1173.78 L41.30,1173.42 L41.90,1178.09 L42.50,1177.69 L43.10,1174.52 L43.70,1174.64 L44.30,1176.23 L44.90,1173.64 L45.50,1173.75 L46.10,1173.86 L46.70,1176.32 L47.30,1174.31 L47.90,1175.29 L48.50,1176.49 L49.10,1177.51 L49.70,1177.45 L50.30,1177.01 L50.90,1176.59 L51.50,1172.78 L52.10,1175.31 L52.70,1176.71 L53.30,1176.16 L53.90,1174.00 L54.50,1175.47 L55.10,1174.18 L55.70,1174.30 L56.30,1173.53 L56.90,1172.42 L57.50,1171.42 L58.10,1171.81 L58.70,1173.31 L59.30,1178.44 L59.90,1171.44 L60.50,1174.99 L61.10,1175.95 L61.70,1175.79 L62.30,1174.77 L62.90,1175.01 L63.50,1175.21 L64.10,1173.96 L64.70,1173.82 L65.30,1174.23 L65.90,1174.08 L66.50,1174.14 L67.10,1172.40 L67.70,1175.17 L68.30,1173.97 L68.90,1172.40 L69.50,1170.55 L70.10,1170.73 L70.70,1171.76 L71.30,1171.54 L71.90,1169.80 L72.50,1171.62 L73.10,1167.58 L73.70,1170.95 L74.30,1165.91 L74.90,1169.72 L75.50,1167.72 L76.10,1167.52 L76.70,1170.42 L77.30,1171.17 L77.90,1171.92 L78.50,1173.39 L79.10,1171.69 L79.70,1170.11 L80.30,1171.44 L80.90,1172.38 L81.50,1171.22 L82.10,1167.16 L82.70,1167.52 L83.30,1167.63 L83.90,1167.50 L84.50,1164.43 L85.10,1166.07 L85.70,1165.16 L86.30,1164.30 L86.90,1168.73 L87.50,1166.04 L88.10,1165.98 L88.70,1166.87 L89.30,1165.63 L89.90,1167.29 L90.50,1167.63 L91.10,1167.46 L91.70,1167.21 L92.30,1167.98 L92.90,1166.24 L93.50,1164.42 L94.10,1164.23 L94.70,1163.63 L95.30,1160.96 L95.90,1161.65 L96.50,1159.98 L97.10,1160.46 L97.70,1160.73 L98.30,1161.34 L98.90,1162.17 L99.50,1159.77 L100.10,1155.73 L100.70,1155.53 L101.30,1149.81 L101.90,1150.87 L102.50,1148.05 L103.10,1148.23 L103.70,1146.86 L104.30,1147.39 L104.90,1146.41 L105.50,1144.59 L106.10,1148.94 L106.70,1156.05 L107.30,1154.03 L107.90,1153.14 L108.50,1150.90 L109.10,1144.03 L109.70,1147.07 L110.30,1144.90 L110.90,1139.41 L111.50,1138.09 L112.10,1139.62 L112.70,1135.97 L113.30,1133.36 L113.90,1129.28 L114.50,1127.94 L115.10,1127.12 L115.70,1124.33 L116.30,1118.36 L116.90,1115.94 L117.50,1111.06 L118.10,1116.59 L118.70,1109.26 L119.30,1107.55 L119.90,1101.47 L120.50,1089.33 L121.10,1091.18 L121.70,1092.69 L122.30,1083.03 L122.90,1089.64 L123.50,1088.13 L124.10,1085.55 L124.70,1088.90 L125.30,1081.46 L125.90,1085.52 L126.50,1088.90 L127.10,1079.26 L127.70,1080.38 L128.30,1068.35 L128.90,1065.41 L129.50,1067.81 L130.10,1070.22 L130.70,1077.83 L131.30,1083.15 L131.90,1082.63 L132.50,1070.18 L133.10,1078.29 L133.70,1068.37 L134.30,1065.42 L134.90,1058.15 L135.50,1066.75 L136.10,1072.14 L136.70,1073.76 L137.30,1082.43 L137.90,1087.18 L138.50,1092.62 L139.10,1095.35 L139.70,1090.71 L140.30,1080.96 L140.90,1076.31 L141.50,1078.93 L142.10,1083.98 L142.70,1094.90 L143.30,1090.54 L143.90,1088.34 L144.50,1086.73 L145.10,1084.19 L145.70,1099.65 L146.30,1103.08 L146.90,1111.26 L147.50,1110.56 L148.10,1118.27 L148.70,1118.78 L149.30,1115.84 L149.90,1115.40 L150.50,1111.92 L151.10,1122.30 L151.70,1123.69 L152.30,1128.14 L152.90,1137.72 L153.50,1136.67 L154.10,1141.58 L154.70,1141.55 L155.30,1139.65 L155.90,1144.78 L156.50,1149.40 L157.10,1147.40 L157.70,1145.96 L158.30,1155.21 L158.90,1156.86 L159.50,1161.40 L160.10,1162.60 L160.70,1164.28 L161.30,1161.48 L161.90,1159.83 L162.50,1163.30 L163.10,1161.57 L163.70,1163.31 L164.30,1159.05 L164.90,1163.31 L165.50,1163.79 L166.10,1170.77 L166.70,1168.76 L167.30,1172.33 L167.90,1173.37 L168.50,1178.04 L169.10,1178.47 L169.70,1177.82 L170.30,1175.64 L170.90,1175.37 L171.50,1172.82 L172.10,1174.16 L172.70,1172.41 L173.30,1174.72 L173.90,1172.55 L174.50,1176.89 L175.10,1175.48 L175.70,1172.56 L176.30,1176.33 L176.90,1175.35 L177.50,1178.84 L178.10,1176.24 L178.70,1177.70 L179.30,1177.86 L179.90,1178.99 L180.50,1180.85 L181.10,1178.42 L181.70,1177.32 L182.30,1179.14 L182.90,1178.53 L183.50,1178.58 L184.10,1179.11 L184.70,1177.53 L185.30,1180.71 L185.90,1180.38 L186.50,1179.95 L187.10,1179.21 L187.70,1178.70 L188.30,1179.46 L188.90,1177.30 L189.50,1177.31 L190.10,1178.57 L190.70,1176.63 L191.30,1178.70 L191.90,1177.87 L192.50,1178.32 L193.10,1178.82 L193.70,1179.62 L194.30,1179.16 L194.90,1177.46 L195.50,1178.34 L196.10,1179.43 L196.70,1178.73 L197.30,1176.47 L197.90,1177.73 L198.50,1180.06 L199.10,1181.78 L199.70,1182.53 L200.30,1184.82 L200.90,1180.14 L201.50,1180.11 L202.10,1180.97 L202.70,1181.72 L203.30,1182.13 L203.90,1184.19 L204.50,1181.88 L205.10,1183.84 L205.70,1182.89 L206.30,1181.63 L206.90,1179.72 L207.50,1182.86 L208.10,1182.42 L208.70,1179.77 L209.30,1184.49 L209.90,1181.84 L210.50,1183.33 L211.10,1185.01 L211.70,1184.24 L212.30,1183.01 L212.90,1183.32 L213.50,1184.71 L214.10,1184.36 L214.70,1183.49 L215.30,1185.32 L215.90,1185.92 L216.50,1184.09 L217.10,1182.80 L217.70,1184.47 L218.30,1182.15 L218.90,1184.17 L219.50,1185.07 L220.10,1183.95 L220.70,1182.76 L221.30,1186.90 L221.90,1184.24 L222.50,1185.84 L223.10,1185.34 L223.70,1184.13 L224.30,1186.90 L224.90,1184.73 L225.50,1186.26 L226.10,1185.75 L226.70,1186.48 L227.30,1184.64 L227.90,1185.51 L228.50,1185.71 L229.10,1185.46 L229.70,1184.45 L230.30,1185.37 L230.90,1185.66 L231.50,1186.10 L232.10,1185.47 L232.70,1185.30 L233.30,1186.33 L233.90,1186.24 L234.50,1186.07 L235.10,1186.73 L235.70,1186.48 L236.30,1186.50 L236.90,1185.30 L237.50,1186.90" fill="none" stroke="#151515" stroke-width="1.1" stroke-linejoin="round"/>
<line x1="33.50" y1="1023.20" x2="33.50" y2="1188.00" stroke="#000" stroke-width="1.6"/>
<line x1="32.10" y1="1023.60" x2="34.90" y2="1023.60" stroke="#000" stroke-width="0.8"/>
<text x="23.40" y="1029.90" font-size="11" font-weight="bold" text-anchor="end" fill="#000" >64</text>
<text x="22.70" y="1191.90" font-size="10.5" font-weight="bold" text-anchor="end" fill="#000" >0</text>
<text transform="translate(9.20,1102.50) rotate(-90)" font-size="10" font-weight="bold" text-anchor="middle" fill="#000">Events</text>
<text x="22.00" y="1208.50" font-size="10" font-weight="bold">10</text>
<text x="33.30" y="1204.30" font-size="6.3" font-weight="bold">0</text>
<text x="69.50" y="1209.40" font-size="10" font-weight="bold">10</text>
<text x="80.80" y="1205.20" font-size="6.3" font-weight="bold">1</text>
<text x="119.60" y="1210.30" font-size="10" font-weight="bold">10</text>
<text x="130.90" y="1206.10" font-size="6.3" font-weight="bold">2</text>
<text x="168.35" y="1211.20" font-size="10" font-weight="bold">10</text>
<text x="179.65" y="1207.00" font-size="6.3" font-weight="bold">3</text>
<text x="218.35" y="1212.10" font-size="10" font-weight="bold">10</text>
<text x="229.65" y="1207.90" font-size="6.3" font-weight="bold">4</text>
<text x="157.50" y="1086.30" font-size="10.7" font-weight="bold" text-anchor="start" fill="#000" textLength="74.5" lengthAdjust="spacingAndGlyphs">WT + S100A10</text>
<path d="M313.30,520.00 L313.90,489.75 L314.50,480.63 L315.10,479.18 L315.70,465.14 L316.30,463.91 L316.90,453.91 L317.50,456.82 L318.10,448.72 L318.70,459.30 L319.30,462.09 L319.90,463.68 L320.50,458.83 L321.10,454.81 L321.70,455.24 L322.30,446.84 L322.90,444.77 L323.50,444.91 L324.10,442.19 L324.70,439.62 L325.30,446.88 L325.90,439.08 L326.50,436.18 L327.10,437.07 L327.70,432.84 L328.30,431.54 L328.90,430.54 L329.50,436.85 L330.10,428.15 L330.70,427.79 L331.30,428.20 L331.90,431.45 L332.50,422.25 L333.10,420.86 L333.70,434.68 L334.30,424.50 L334.90,430.65 L335.50,450.30 L336.10,453.07 L336.70,436.73 L337.30,430.12 L337.90,439.00 L338.50,433.59 L339.10,432.71 L339.70,434.64 L340.30,431.82 L340.90,429.17 L341.50,423.67 L342.10,427.56 L342.70,428.45 L343.30,424.61 L343.90,424.32 L344.50,428.66 L345.10,425.85 L345.70,417.85 L346.30,417.38 L346.90,421.13 L347.50,420.63 L348.10,426.10 L348.70,428.51 L349.30,423.18 L349.90,422.86 L350.50,424.92 L351.10,444.31 L351.70,441.64 L352.30,441.81 L352.90,450.52 L353.50,450.62 L354.10,453.50 L354.70,460.22 L355.30,466.15 L355.90,466.32 L356.50,474.92 L357.10,480.23 L357.70,476.01 L358.30,482.26 L358.90,489.16 L359.50,486.61 L360.10,493.31 L360.70,499.82 L361.30,501.37 L361.90,502.78 L362.50,501.94 L363.10,511.37 L363.70,510.63 L364.30,511.72 L364.90,512.29 L365.50,510.01 L366.10,511.39 L366.70,512.20 L367.30,517.34 L367.90,513.53 L368.50,514.93 L369.10,515.41 L369.70,517.13 L370.30,517.35 L370.90,517.15 L371.50,514.88 L372.10,512.11 L372.70,517.33 L373.30,517.64 L373.90,519.28 L374.50,517.39 L375.10,516.76 L375.70,518.47 L376.30,515.56 L376.90,516.45 L377.50,516.56 L378.10,518.59 L378.70,520.00 L379.30,519.41 L379.90,520.00 L380.50,518.71 L381.10,518.83 L381.70,517.78 L382.30,518.40 L382.90,517.39 L383.50,518.08 L384.10,518.11 L384.70,519.25 L385.30,519.23 L385.90,519.54 L386.50,519.81 L387.10,518.94 L387.70,519.67 L388.30,520.00 L388.90,519.23 L389.50,519.82 L390.10,519.22 L390.70,518.50 L391.30,519.36 L391.90,518.89 L392.50,519.36 L393.10,519.08 L393.70,519.47 L394.30,518.24 L394.90,520.00 L395.50,519.99 L396.10,519.14 L396.70,518.86 L397.30,519.32 L397.90,519.66 L398.50,519.53 L399.10,519.52 L399.70,518.34 L400.30,518.76 L400.90,520.00 L401.50,519.45 L402.10,518.57 L402.70,518.90 L403.30,518.61 L403.90,518.83 L404.50,519.93 L405.10,519.23 L405.70,519.91 L406.30,519.44 L406.90,518.59 L407.50,519.02 L408.10,520.00 L408.70,518.97 L409.30,518.82 L409.90,519.99 L410.50,519.41 L411.10,519.36 L411.70,520.00 L412.30,518.47 L412.90,519.58 L413.50,518.83 L414.10,518.66 L414.70,518.96 L415.30,519.97 L415.90,519.31 L416.50,518.45 L417.10,518.82 L417.70,520.00 L418.30,519.91 L418.90,518.84 L419.50,520.00 L420.10,519.21 L420.70,518.79 L421.30,519.34 L421.90,519.89 L422.50,520.00 L423.10,519.94 L423.70,519.20 L424.30,519.13 L424.90,518.68 L425.50,519.39 L426.10,519.12 L426.70,519.55 L427.30,518.79 L427.90,519.17 L428.50,518.99 L429.10,518.83 L429.70,518.84 L430.30,518.93 L430.90,518.85 L431.50,519.74 L432.10,519.51 L432.70,518.78 L433.30,519.72 L433.90,519.61 L434.50,520.00 L435.10,519.37 L435.70,519.37 L436.30,519.13 L436.90,519.54 L437.50,519.74 L438.10,519.58 L438.70,519.36 L439.30,519.78 L439.90,519.54 L440.50,519.63 L441.10,519.03 L441.70,519.61 L442.30,519.00 L442.90,519.08 L443.50,519.60 L444.10,520.00 L444.70,520.00 L445.30,519.53 L445.90,519.44 L446.50,520.00 L447.10,520.00 L447.70,520.00 L448.30,519.45 L448.90,519.64 L449.50,519.38 L450.10,519.40 L450.70,519.12 L451.30,519.43 L451.90,518.46 L452.50,518.95 L453.10,519.78 L453.70,519.10 L454.30,519.85 L454.90,518.91 L455.50,519.39 L456.10,519.79 L456.70,519.06 L457.30,519.22 L457.90,520.00 L458.50,519.25 L459.10,519.24 L459.70,519.31 L460.30,519.62 L460.90,519.59 L461.50,520.00 L462.10,520.00 L462.70,519.41 L463.30,519.44 L463.90,518.90 L464.50,518.86 L465.10,519.25 L465.70,520.00 L466.30,519.70 L466.90,520.00 L467.50,520.00 L468.10,519.56 L468.70,520.00 L469.30,519.38 L469.90,519.33 L470.50,519.44 L471.10,520.00 L471.70,519.59 L472.30,519.29 L472.90,519.89 L473.50,520.00 L474.10,519.62 L474.70,519.55 L475.30,520.00 L475.90,520.00 L476.50,520.00 L477.10,519.30 L477.70,519.84 L478.30,519.88 L478.90,518.78 L479.50,520.00 L480.10,519.75 L480.70,519.53 L481.30,520.00 L481.90,519.78 L482.50,519.34 L483.10,519.68 L483.70,520.00 L484.30,520.00 L484.90,519.69 L485.50,519.28 L486.10,519.37 L486.70,519.31 L487.30,519.19 L487.90,519.72 L488.50,519.49 L489.10,519.77 L489.70,519.32 L490.30,519.30 L490.90,519.65 L491.50,519.57 L492.10,520.00 L492.70,519.29 L493.30,519.86 L493.90,519.73 L494.50,519.09 L495.10,520.00 L495.70,519.85 L496.30,518.69 L496.90,520.00 L497.50,520.00 L498.10,519.36 L498.70,520.00 L499.30,519.85 L499.90,519.19 L500.50,520.00 L501.10,519.59 L501.70,519.10 L502.30,518.69 L502.90,519.91 L503.50,519.41 L504.10,520.00 L504.70,519.99 L505.30,519.52 L505.90,519.52 L506.50,520.00 L507.10,520.00 L507.70,520.00 L508.30,519.61 L508.90,519.30 L509.50,519.60 L510.10,520.00 L510.30,520.00 Z" fill="#8f8f8f" stroke="#6e6e6e" stroke-width="0.7"/>
<path d="M313.90,493.17 L314.50,486.05 L315.10,484.66 L315.70,472.54 L316.30,470.49 L316.90,473.02 L317.50,466.85 L318.10,466.84 L318.70,461.79 L319.30,469.75 L319.90,471.84 L320.50,475.39 L321.10,469.63 L321.70,461.94 L322.30,452.52 L322.90,450.13 L323.50,438.17 L324.10,445.83 L324.70,446.70 L325.30,444.32 L325.90,448.59 L326.50,442.39 L327.10,446.11 L327.70,438.87 L328.30,439.27 L328.90,442.63 L329.50,453.89 L330.10,436.85 L330.70,437.04 L331.30,434.10 L331.90,436.20 L332.50,427.28 L333.10,436.52 L333.70,423.10 L334.30,433.13 L334.90,425.64 L335.50,422.18 L336.10,430.61 L336.70,428.29 L337.30,438.34 L337.90,436.36 L338.50,437.22 L339.10,438.24 L339.70,442.29 L340.30,447.49 L340.90,440.85 L341.50,445.81 L342.10,439.44 L342.70,443.64 L343.30,443.94 L343.90,441.58 L344.50,444.74 L345.10,443.62 L345.70,442.88 L346.30,435.68 L346.90,440.70 L347.50,447.07 L348.10,439.70 L348.70,448.02 L349.30,450.12 L349.90,453.68 L350.50,457.96 L351.10,462.14 L351.70,461.27 L352.30,463.36 L352.90,462.55 L353.50,462.61 L354.10,465.55 L354.70,468.64 L355.30,471.07 L355.90,473.83 L356.50,476.84 L357.10,482.04 L357.70,481.98 L358.30,485.21 L358.90,492.23 L359.50,489.70 L360.10,491.96 L360.70,494.19 L361.30,491.42 L361.90,495.78 L362.50,497.95 L363.10,499.96 L363.70,499.79 L364.30,502.66 L364.90,504.55 L365.50,505.56 L366.10,504.68 L366.70,507.13 L367.30,507.78 L367.90,505.80 L368.50,503.12 L369.10,508.94 L369.70,511.14 L370.30,509.45 L370.90,512.94 L371.50,508.30 L372.10,511.10 L372.70,512.36 L373.30,510.43 L373.90,512.17 L374.50,512.70 L375.10,514.03 L375.70,515.20 L376.30,513.92 L376.90,512.44 L377.50,517.05 L378.10,515.90 L378.70,517.03 L379.30,513.04 L379.90,515.24 L380.50,513.01 L381.10,514.20 L381.70,515.96 L382.30,515.50 L382.90,516.55 L383.50,513.17 L384.10,516.72 L384.70,514.74 L385.30,515.86 L385.90,515.90 L386.50,515.68 L387.10,515.75 L387.70,512.84 L388.30,515.98 L388.90,515.61 L389.50,515.20 L390.10,514.31 L390.70,513.97 L391.30,518.67 L391.90,515.35 L392.50,514.67 L393.10,516.49 L393.70,514.32 L394.30,514.02 L394.90,515.87 L395.50,515.20 L396.10,515.57 L396.70,516.16 L397.30,514.71 L397.90,515.16 L398.50,516.51 L399.10,515.98 L399.70,516.51 L400.30,517.95 L400.90,517.40 L401.50,519.00 L402.10,516.11 L402.70,517.64 L403.30,517.19 L403.90,515.60 L404.50,518.56 L405.10,517.83 L405.70,517.36 L406.30,518.37 L406.90,518.20 L407.50,519.01 L408.10,517.72 L408.70,517.74 L409.30,517.83 L409.90,517.65 L410.50,517.83 L411.10,517.32 L411.70,518.55 L412.30,518.15 L412.90,518.32 L413.50,518.36 L414.10,517.72 L414.70,519.02 L415.30,518.94 L415.90,519.33 L416.50,518.55 L417.10,518.42 L417.70,518.20 L418.30,517.43 L418.90,519.40 L419.50,518.68 L420.10,519.35 L420.70,519.30 L421.30,519.15 L421.90,518.41 L422.50,518.17 L423.10,519.21 L423.70,518.78 L424.30,518.96 L424.90,519.30 L425.50,518.29 L426.10,519.40 L426.70,519.01 L427.30,519.40 L427.90,519.40 L428.50,518.89 L429.10,518.40 L429.70,519.05 L430.30,518.73 L430.90,519.33 L431.50,518.99 L432.10,518.88 L432.70,519.40 L433.30,519.34 L433.90,518.90 L434.50,518.47 L435.10,518.44 L435.70,519.08 L436.30,519.00 L436.90,519.40 L437.50,518.63 L438.10,519.40 L438.70,518.72 L439.30,519.40 L439.90,519.40 L440.50,519.40 L441.10,519.40 L441.70,519.16 L442.30,518.93 L442.90,519.31 L443.50,519.40 L444.10,519.05 L444.70,519.32 L445.30,519.40 L445.90,519.40 L446.50,519.40 L447.10,519.40 L447.70,519.17 L448.30,519.29 L448.90,519.40 L449.50,518.41 L450.10,518.87 L450.70,519.29 L451.30,519.33 L451.90,519.40 L452.50,519.40 L453.10,519.34 L453.70,519.26 L454.30,519.04 L454.90,519.25 L455.50,519.40 L456.10,519.40 L456.70,519.40 L457.30,519.40 L457.90,519.40 L458.50,518.76 L459.10,518.90 L459.70,519.34 L460.30,518.94 L460.90,519.40 L461.50,518.67 L462.10,518.96 L462.70,518.55 L463.30,519.40 L463.90,518.76 L464.50,519.36 L465.10,518.29 L465.70,519.39 L466.30,518.59 L466.90,518.75 L467.50,519.40 L468.10,518.83 L468.70,519.21 L469.30,519.03 L469.90,518.70 L470.50,519.32 L471.10,519.03 L471.70,519.40 L472.30,519.40 L472.90,518.84 L473.50,519.08 L474.10,519.40 L474.70,519.40 L475.30,518.53 L475.90,519.40 L476.50,519.40 L477.10,519.22 L477.70,519.40 L478.30,519.40 L478.90,518.69 L479.50,519.40 L480.10,518.89 L480.70,518.87 L481.30,519.40 L481.90,519.40 L482.50,519.40 L483.10,519.11 L483.70,519.30 L484.30,519.18 L484.90,519.40 L485.50,519.40 L486.10,519.40 L486.70,518.31 L487.30,518.43 L487.90,517.87 L488.50,518.45 L489.10,519.11 L489.70,519.36 L490.30,519.40 L490.90,519.40 L491.50,519.40 L492.10,518.70 L492.70,519.40 L493.30,519.25 L493.90,519.38 L494.50,518.73 L495.10,519.40 L495.70,519.40 L496.30,519.20 L496.90,519.40 L497.50,519.40 L498.10,519.05 L498.70,519.40 L499.30,519.40 L499.90,519.40 L500.50,519.40 L501.10,519.40 L501.70,519.08 L502.30,518.43 L502.90,519.40 L503.50,519.40 L504.10,519.40 L504.70,518.77 L505.30,519.10 L505.90,519.38 L506.50,519.40 L507.10,518.71 L507.70,519.22 L508.30,519.15 L508.90,518.57 L509.50,519.40 L510.10,519.35" fill="none" stroke="#151515" stroke-width="1.1" stroke-linejoin="round"/>
<line x1="313.30" y1="352.70" x2="313.30" y2="520.50" stroke="#000" stroke-width="1.6"/>
<line x1="311.90" y1="353.10" x2="314.70" y2="353.10" stroke="#000" stroke-width="0.8"/>
<text x="305.50" y="359.90" font-size="11" font-weight="bold" text-anchor="end" fill="#000" >64</text>
<text x="304.60" y="522.00" font-size="10.5" font-weight="bold" text-anchor="end" fill="#000" >0</text>
<text transform="translate(292.00,432.30) rotate(-90)" font-size="10" font-weight="bold" text-anchor="middle" fill="#000">Events</text>
<text x="303.90" y="537.30" font-size="10" font-weight="bold">10</text>
<text x="315.20" y="533.10" font-size="6.3" font-weight="bold">0</text>
<text x="351.60" y="538.20" font-size="10" font-weight="bold">10</text>
<text x="362.90" y="534.00" font-size="6.3" font-weight="bold">1</text>
<text x="401.60" y="539.10" font-size="10" font-weight="bold">10</text>
<text x="412.90" y="534.90" font-size="6.3" font-weight="bold">2</text>
<text x="450.80" y="540.00" font-size="10" font-weight="bold">10</text>
<text x="462.10" y="535.80" font-size="6.3" font-weight="bold">3</text>
<text x="501.80" y="540.90" font-size="10" font-weight="bold">10</text>
<text x="513.10" y="536.70" font-size="6.3" font-weight="bold">4</text>
<text x="413.30" y="434.20" font-size="10.5" font-weight="bold" text-anchor="start" fill="#000" textLength="15.4" lengthAdjust="spacingAndGlyphs">KO</text>
<path d="M311.30,739.00 L311.90,710.12 L312.50,699.10 L313.10,695.91 L313.70,689.73 L314.30,684.87 L314.90,679.48 L315.50,679.61 L316.10,687.45 L316.70,687.43 L317.30,688.70 L317.90,681.12 L318.50,681.01 L319.10,675.17 L319.70,671.21 L320.30,667.59 L320.90,667.51 L321.50,667.68 L322.10,667.75 L322.70,663.27 L323.30,658.35 L323.90,659.13 L324.50,652.93 L325.10,654.36 L325.70,647.39 L326.30,649.43 L326.90,646.54 L327.50,647.25 L328.10,647.12 L328.70,654.28 L329.30,656.34 L329.90,653.00 L330.50,648.76 L331.10,649.23 L331.70,642.68 L332.30,643.76 L332.90,644.70 L333.50,635.84 L334.10,643.23 L334.70,641.82 L335.30,638.87 L335.90,639.60 L336.50,640.18 L337.10,646.27 L337.70,638.01 L338.30,647.54 L338.90,646.36 L339.50,644.75 L340.10,645.79 L340.70,647.16 L341.30,648.66 L341.90,652.35 L342.50,649.05 L343.10,655.88 L343.70,658.52 L344.30,658.49 L344.90,662.48 L345.50,661.35 L346.10,665.05 L346.70,668.70 L347.30,674.01 L347.90,671.04 L348.50,672.47 L349.10,675.06 L349.70,676.76 L350.30,676.47 L350.90,683.87 L351.50,681.38 L352.10,684.44 L352.70,687.21 L353.30,692.19 L353.90,697.79 L354.50,700.30 L355.10,700.35 L355.70,702.98 L356.30,705.17 L356.90,705.03 L357.50,709.24 L358.10,710.01 L358.70,714.61 L359.30,712.32 L359.90,712.14 L360.50,712.17 L361.10,713.52 L361.70,717.73 L362.30,718.49 L362.90,717.57 L363.50,717.70 L364.10,720.57 L364.70,720.88 L365.30,722.50 L365.90,722.91 L366.50,722.63 L367.10,722.50 L367.70,725.63 L368.30,726.51 L368.90,727.15 L369.50,728.32 L370.10,728.75 L370.70,727.72 L371.30,729.53 L371.90,727.11 L372.50,730.89 L373.10,730.67 L373.70,732.32 L374.30,732.66 L374.90,730.69 L375.50,731.67 L376.10,733.16 L376.70,731.43 L377.30,732.25 L377.90,731.63 L378.50,733.12 L379.10,732.95 L379.70,731.86 L380.30,731.36 L380.90,730.63 L381.50,734.18 L382.10,732.87 L382.70,732.71 L383.30,733.00 L383.90,732.64 L384.50,734.49 L385.10,734.51 L385.70,731.42 L386.30,733.98 L386.90,734.26 L387.50,733.92 L388.10,734.54 L388.70,736.44 L389.30,735.08 L389.90,736.21 L390.50,736.16 L391.10,733.48 L391.70,737.26 L392.30,735.63 L392.90,735.18 L393.50,736.51 L394.10,738.13 L394.70,734.84 L395.30,735.05 L395.90,736.32 L396.50,734.06 L397.10,734.93 L397.70,736.38 L398.30,737.31 L398.90,737.23 L399.50,737.71 L400.10,738.13 L400.70,736.56 L401.30,736.79 L401.90,736.94 L402.50,737.02 L403.10,738.71 L403.70,737.95 L404.30,736.48 L404.90,737.79 L405.50,737.03 L406.10,737.02 L406.70,738.27 L407.30,738.32 L407.90,738.27 L408.50,738.05 L409.10,738.67 L409.70,737.20 L410.30,738.24 L410.90,737.51 L411.50,737.58 L412.10,737.09 L412.70,738.74 L413.30,738.90 L413.90,738.48 L414.50,737.77 L415.10,738.20 L415.70,737.60 L416.30,738.03 L416.90,738.97 L417.50,739.00 L418.10,738.59 L418.70,738.67 L419.30,738.22 L419.90,738.49 L420.50,738.22 L421.10,738.56 L421.70,737.99 L422.30,738.82 L422.90,738.19 L423.50,738.42 L424.10,738.25 L424.70,739.00 L425.30,738.78 L425.90,737.92 L426.50,737.84 L427.10,738.62 L427.70,738.38 L428.30,738.21 L428.90,738.44 L429.50,739.00 L430.10,738.29 L430.70,739.00 L431.30,738.09 L431.90,738.22 L432.50,738.50 L433.10,738.31 L433.70,738.10 L434.30,737.81 L434.90,738.18 L435.50,738.15 L436.10,738.36 L436.70,738.89 L437.30,738.63 L437.90,738.96 L438.50,738.48 L439.10,738.60 L439.70,738.69 L440.30,738.74 L440.90,738.90 L441.50,738.10 L442.10,738.60 L442.70,738.49 L443.30,739.00 L443.90,738.82 L444.50,738.11 L445.10,738.62 L445.70,738.76 L446.30,738.43 L446.90,739.00 L447.50,738.55 L448.10,737.77 L448.70,738.57 L449.30,738.82 L449.90,738.02 L450.50,738.78 L451.10,737.03 L451.70,739.00 L452.30,737.73 L452.90,738.20 L453.50,738.28 L454.10,737.73 L454.70,738.60 L455.30,737.99 L455.90,737.77 L456.50,737.29 L457.10,738.81 L457.70,739.00 L458.30,738.32 L458.90,738.58 L459.50,739.00 L460.10,738.68 L460.70,739.00 L461.30,738.99 L461.90,738.86 L462.50,738.76 L463.10,739.00 L463.70,738.61 L464.30,738.57 L464.90,738.15 L465.50,737.46 L466.10,738.05 L466.70,738.35 L467.30,739.00 L467.90,738.35 L468.50,737.53 L469.10,738.88 L469.70,739.00 L470.30,738.70 L470.90,738.69 L471.50,738.69 L472.10,738.52 L472.70,739.00 L473.30,738.14 L473.90,738.18 L474.50,737.82 L475.10,738.31 L475.70,738.22 L476.30,738.24 L476.90,738.68 L477.50,739.00 L478.10,737.89 L478.70,738.65 L479.30,738.24 L479.90,738.25 L480.50,738.37 L481.10,738.79 L481.70,737.79 L482.30,739.00 L482.90,738.57 L483.50,738.24 L484.10,737.80 L484.70,739.00 L485.30,738.98 L485.90,739.00 L486.50,738.71 L487.10,739.00 L487.70,739.00 L488.30,739.00 L488.90,738.82 L489.50,739.00 L490.10,738.45 L490.70,738.71 L491.30,738.49 L491.90,738.68 L492.50,738.69 L493.10,738.67 L493.70,738.66 L494.30,738.74 L494.90,738.46 L495.50,738.31 L496.10,738.44 L496.70,739.00 L497.30,739.00 L497.90,739.00 L498.50,739.00 L499.10,738.16 L499.70,739.00 L500.30,738.02 L500.90,738.40 L501.50,738.28 L502.10,738.72 L502.70,739.00 L503.30,739.00 L503.90,738.87 L504.50,739.00 L505.10,738.92 L505.70,738.07 L506.30,739.00 L506.90,738.40 L507.50,738.44 L508.10,738.67 L508.70,738.22 L509.30,738.38 L509.90,739.00 L510.50,738.23 L511.10,738.38 L511.70,737.84 L512.30,737.76 L512.60,739.00 Z" fill="#8f8f8f" stroke="#6e6e6e" stroke-width="0.7"/>
<path d="M311.90,727.55 L312.50,726.23 L313.10,731.11 L313.70,728.56 L314.30,728.16 L314.90,727.37 L315.50,728.15 L316.10,725.44 L316.70,728.69 L317.30,730.69 L317.90,727.69 L318.50,729.90 L319.10,728.51 L319.70,728.45 L320.30,729.84 L320.90,728.36 L321.50,727.82 L322.10,727.55 L322.70,726.45 L323.30,727.30 L323.90,727.23 L324.50,727.74 L325.10,728.77 L325.70,729.09 L326.30,730.46 L326.90,731.32 L327.50,730.23 L328.10,728.45 L328.70,728.20 L329.30,727.69 L329.90,723.65 L330.50,725.03 L331.10,723.32 L331.70,723.23 L332.30,723.19 L332.90,723.79 L333.50,723.79 L334.10,723.04 L334.70,720.97 L335.30,720.09 L335.90,717.92 L336.50,715.30 L337.10,715.91 L337.70,716.16 L338.30,717.27 L338.90,717.69 L339.50,718.24 L340.10,715.86 L340.70,717.17 L341.30,713.31 L341.90,710.23 L342.50,709.88 L343.10,707.58 L343.70,705.29 L344.30,701.80 L344.90,700.13 L345.50,696.54 L346.10,694.51 L346.70,696.30 L347.30,695.26 L347.90,693.08 L348.50,693.31 L349.10,692.69 L349.70,690.99 L350.30,690.79 L350.90,688.54 L351.50,684.86 L352.10,679.27 L352.70,677.36 L353.30,672.54 L353.90,670.69 L354.50,664.99 L355.10,664.48 L355.70,655.61 L356.30,660.20 L356.90,660.71 L357.50,659.31 L358.10,664.87 L358.70,659.16 L359.30,651.11 L359.90,642.05 L360.50,633.57 L361.10,645.59 L361.70,652.29 L362.30,652.47 L362.90,645.80 L363.50,640.09 L364.10,643.92 L364.70,642.88 L365.30,644.47 L365.90,645.09 L366.50,646.93 L367.10,650.54 L367.70,648.72 L368.30,648.16 L368.90,648.44 L369.50,647.03 L370.10,649.36 L370.70,654.28 L371.30,657.70 L371.90,652.65 L372.50,657.77 L373.10,662.45 L373.70,662.65 L374.30,666.88 L374.90,664.14 L375.50,671.57 L376.10,671.02 L376.70,676.25 L377.30,677.81 L377.90,680.63 L378.50,684.14 L379.10,681.84 L379.70,685.80 L380.30,687.82 L380.90,689.49 L381.50,689.97 L382.10,693.04 L382.70,692.68 L383.30,693.11 L383.90,695.23 L384.50,694.39 L385.10,696.25 L385.70,700.72 L386.30,701.18 L386.90,699.86 L387.50,704.66 L388.10,703.97 L388.70,703.26 L389.30,708.08 L389.90,704.23 L390.50,706.52 L391.10,707.56 L391.70,707.68 L392.30,710.15 L392.90,709.62 L393.50,711.78 L394.10,708.38 L394.70,712.82 L395.30,711.87 L395.90,715.18 L396.50,714.07 L397.10,714.64 L397.70,716.53 L398.30,717.31 L398.90,717.30 L399.50,715.73 L400.10,718.44 L400.70,719.54 L401.30,718.27 L401.90,721.08 L402.50,720.66 L403.10,722.71 L403.70,723.41 L404.30,722.71 L404.90,724.71 L405.50,725.75 L406.10,726.32 L406.70,726.52 L407.30,727.77 L407.90,727.56 L408.50,728.27 L409.10,728.41 L409.70,730.43 L410.30,730.06 L410.90,728.52 L411.50,728.89 L412.10,728.83 L412.70,728.29 L413.30,730.96 L413.90,730.04 L414.50,729.80 L415.10,733.18 L415.70,730.32 L416.30,731.61 L416.90,731.40 L417.50,731.72 L418.10,730.41 L418.70,731.78 L419.30,732.40 L419.90,729.93 L420.50,730.06 L421.10,731.73 L421.70,732.87 L422.30,732.55 L422.90,734.15 L423.50,734.07 L424.10,730.41 L424.70,732.46 L425.30,732.65 L425.90,732.77 L426.50,731.26 L427.10,733.43 L427.70,731.32 L428.30,733.21 L428.90,732.82 L429.50,732.57 L430.10,731.83 L430.70,731.46 L431.30,733.59 L431.90,733.76 L432.50,734.35 L433.10,734.97 L433.70,736.05 L434.30,735.89 L434.90,737.46 L435.50,736.99 L436.10,736.96 L436.70,736.92 L437.30,735.21 L437.90,736.43 L438.50,737.11 L439.10,737.66 L439.70,736.98 L440.30,737.61 L440.90,737.95 L441.50,736.84 L442.10,737.54 L442.70,737.18 L443.30,738.02 L443.90,738.27 L444.50,737.76 L445.10,738.21 L445.70,737.09 L446.30,738.38 L446.90,736.49 L447.50,737.17 L448.10,737.75 L448.70,737.74 L449.30,737.43 L449.90,737.58 L450.50,738.40 L451.10,738.40 L451.70,738.21 L452.30,738.40 L452.90,737.72 L453.50,737.67 L454.10,737.72 L454.70,737.85 L455.30,738.15 L455.90,737.93 L456.50,738.40 L457.10,737.57 L457.70,738.40 L458.30,738.35 L458.90,738.08 L459.50,738.40 L460.10,738.40 L460.70,738.40 L461.30,738.06 L461.90,737.31 L462.50,738.18 L463.10,738.31 L463.70,738.34 L464.30,737.64 L464.90,738.29 L465.50,738.40 L466.10,738.40 L466.70,737.60 L467.30,737.69 L467.90,738.23 L468.50,738.40 L469.10,738.38 L469.70,738.40 L470.30,737.98 L470.90,738.40 L471.50,738.14 L472.10,738.40 L472.70,738.40 L473.30,738.40 L473.90,738.39 L474.50,738.40 L475.10,738.40 L475.70,738.40 L476.30,738.37 L476.90,738.40 L477.50,737.74 L478.10,737.83 L478.70,738.12 L479.30,738.40 L479.90,737.94 L480.50,738.40 L481.10,738.06 L481.70,738.37 L482.30,738.40 L482.90,738.40 L483.50,738.40 L484.10,737.73 L484.70,738.40 L485.30,738.22 L485.90,738.00 L486.50,738.40 L487.10,738.40 L487.70,738.40 L488.30,738.40 L488.90,738.04 L489.50,738.40 L490.10,738.39 L490.70,738.40 L491.30,737.94 L491.90,737.08 L492.50,738.40 L493.10,738.40 L493.70,737.69 L494.30,738.05 L494.90,737.84 L495.50,738.40 L496.10,737.75 L496.70,738.05 L497.30,738.40 L497.90,738.16 L498.50,738.40 L499.10,738.40 L499.70,738.40 L500.30,737.94 L500.90,738.40 L501.50,738.40 L502.10,738.40 L502.70,738.40 L503.30,738.00 L503.90,738.12 L504.50,737.94 L505.10,738.40 L505.70,738.40 L506.30,738.40 L506.90,738.40 L507.50,738.40 L508.10,737.45 L508.70,738.40 L509.30,737.69 L509.90,738.40 L510.50,738.40 L511.10,738.40 L511.70,738.11 L512.30,737.86" fill="none" stroke="#151515" stroke-width="1.1" stroke-linejoin="round"/>
<line x1="311.30" y1="566.70" x2="311.30" y2="739.50" stroke="#000" stroke-width="1.6"/>
<line x1="309.90" y1="567.10" x2="312.70" y2="567.10" stroke="#000" stroke-width="0.8"/>
<text x="303.70" y="578.30" font-size="11" font-weight="bold" text-anchor="end" fill="#000" >64</text>
<text x="303.70" y="741.50" font-size="10.5" font-weight="bold" text-anchor="end" fill="#000" >0</text>
<text transform="translate(290.30,651.30) rotate(-90)" font-size="10" font-weight="bold" text-anchor="middle" fill="#000">Events</text>
<text x="302.30" y="756.20" font-size="10" font-weight="bold">10</text>
<text x="313.60" y="752.00" font-size="6.3" font-weight="bold">0</text>
<text x="350.10" y="757.10" font-size="10" font-weight="bold">10</text>
<text x="361.40" y="752.90" font-size="6.3" font-weight="bold">1</text>
<text x="399.90" y="758.00" font-size="10" font-weight="bold">10</text>
<text x="411.20" y="753.80" font-size="6.3" font-weight="bold">2</text>
<text x="449.20" y="758.90" font-size="10" font-weight="bold">10</text>
<text x="460.50" y="754.70" font-size="6.3" font-weight="bold">3</text>
<text x="499.90" y="759.80" font-size="10" font-weight="bold">10</text>
<text x="511.20" y="755.60" font-size="6.3" font-weight="bold">4</text>
<text x="413.20" y="645.20" font-size="10.5" font-weight="bold" text-anchor="start" fill="#000" textLength="85.5" lengthAdjust="spacingAndGlyphs">KO + Annexin A2</text>
<path d="M310.80,964.00 L311.40,927.70 L312.00,923.83 L312.60,915.02 L313.20,908.55 L313.80,905.89 L314.40,906.78 L315.00,908.88 L315.60,908.18 L316.20,913.67 L316.80,914.49 L317.40,908.61 L318.00,902.04 L318.60,896.40 L319.20,899.31 L319.80,895.95 L320.40,893.73 L321.00,887.73 L321.60,886.34 L322.20,886.72 L322.80,886.64 L323.40,884.31 L324.00,877.43 L324.60,873.79 L325.20,868.95 L325.80,869.23 L326.40,868.21 L327.00,864.06 L327.60,868.42 L328.20,864.25 L328.80,870.09 L329.40,871.81 L330.00,876.79 L330.60,877.79 L331.20,875.99 L331.80,875.44 L332.40,873.28 L333.00,870.45 L333.60,867.68 L334.20,867.31 L334.80,870.70 L335.40,867.33 L336.00,873.41 L336.60,876.97 L337.20,875.98 L337.80,888.02 L338.40,895.53 L339.00,883.97 L339.60,882.16 L340.20,878.46 L340.80,877.69 L341.40,883.24 L342.00,884.17 L342.60,878.85 L343.20,876.89 L343.80,879.13 L344.40,885.64 L345.00,890.95 L345.60,895.06 L346.20,902.49 L346.80,902.01 L347.40,907.70 L348.00,907.22 L348.60,908.69 L349.20,908.84 L349.80,911.67 L350.40,914.66 L351.00,919.41 L351.60,915.22 L352.20,918.97 L352.80,924.86 L353.40,929.28 L354.00,929.28 L354.60,926.90 L355.20,927.91 L355.80,933.92 L356.40,933.63 L357.00,934.20 L357.60,938.79 L358.20,940.85 L358.80,941.20 L359.40,942.37 L360.00,944.37 L360.60,947.88 L361.20,948.91 L361.80,950.17 L362.40,950.33 L363.00,948.19 L363.60,951.56 L364.20,951.44 L364.80,951.20 L365.40,948.63 L366.00,950.24 L366.60,952.16 L367.20,949.67 L367.80,951.96 L368.40,953.80 L369.00,951.69 L369.60,955.25 L370.20,954.39 L370.80,954.14 L371.40,955.36 L372.00,956.50 L372.60,956.68 L373.20,958.45 L373.80,956.92 L374.40,957.24 L375.00,958.85 L375.60,957.73 L376.20,956.73 L376.80,958.74 L377.40,959.31 L378.00,957.21 L378.60,956.18 L379.20,957.55 L379.80,957.54 L380.40,957.37 L381.00,959.25 L381.60,956.69 L382.20,959.46 L382.80,956.99 L383.40,957.89 L384.00,959.84 L384.60,960.77 L385.20,960.82 L385.80,960.54 L386.40,960.53 L387.00,960.60 L387.60,961.11 L388.20,960.33 L388.80,960.88 L389.40,961.27 L390.00,960.71 L390.60,961.63 L391.20,961.49 L391.80,963.16 L392.40,961.39 L393.00,960.64 L393.60,960.78 L394.20,961.26 L394.80,962.37 L395.40,961.05 L396.00,961.91 L396.60,963.57 L397.20,958.78 L397.80,960.41 L398.40,961.96 L399.00,962.16 L399.60,962.02 L400.20,961.33 L400.80,962.58 L401.40,962.23 L402.00,961.41 L402.60,964.00 L403.20,962.51 L403.80,961.59 L404.40,962.16 L405.00,962.11 L405.60,962.36 L406.20,961.15 L406.80,962.35 L407.40,963.17 L408.00,962.16 L408.60,962.78 L409.20,963.35 L409.80,963.36 L410.40,963.73 L411.00,962.18 L411.60,962.90 L412.20,962.93 L412.80,963.41 L413.40,963.65 L414.00,961.76 L414.60,963.65 L415.20,962.38 L415.80,963.45 L416.40,962.36 L417.00,963.20 L417.60,963.71 L418.20,963.04 L418.80,963.21 L419.40,963.52 L420.00,963.19 L420.60,963.08 L421.20,963.89 L421.80,963.65 L422.40,962.98 L423.00,964.00 L423.60,962.56 L424.20,963.59 L424.80,963.00 L425.40,963.20 L426.00,963.49 L426.60,963.25 L427.20,963.46 L427.80,962.38 L428.40,962.39 L429.00,963.46 L429.60,962.67 L430.20,962.64 L430.80,962.42 L431.40,963.79 L432.00,963.54 L432.60,963.90 L433.20,962.70 L433.80,963.17 L434.40,962.60 L435.00,963.56 L435.60,963.97 L436.20,962.74 L436.80,963.97 L437.40,963.68 L438.00,963.10 L438.60,962.21 L439.20,963.90 L439.80,963.15 L440.40,962.90 L441.00,963.40 L441.60,963.41 L442.20,963.96 L442.80,962.70 L443.40,963.78 L444.00,963.96 L444.60,963.95 L445.20,963.14 L445.80,962.86 L446.40,963.74 L447.00,963.29 L447.60,963.30 L448.20,963.95 L448.80,963.11 L449.40,962.10 L450.00,963.06 L450.60,962.33 L451.20,963.67 L451.80,963.42 L452.40,962.96 L453.00,963.26 L453.60,963.69 L454.20,963.31 L454.80,963.94 L455.40,963.25 L456.00,963.80 L456.60,964.00 L457.20,964.00 L457.80,962.96 L458.40,963.74 L459.00,962.36 L459.60,962.76 L460.20,962.32 L460.80,963.84 L461.40,962.70 L462.00,963.31 L462.60,963.22 L463.20,963.31 L463.80,963.03 L464.40,963.45 L465.00,964.00 L465.60,963.36 L466.20,963.60 L466.80,963.84 L467.40,963.25 L468.00,962.72 L468.60,963.07 L469.20,963.89 L469.80,962.53 L470.40,963.06 L471.00,963.87 L471.60,963.76 L472.20,963.37 L472.80,963.78 L473.40,963.46 L474.00,962.79 L474.60,962.60 L475.20,963.07 L475.80,963.85 L476.40,963.11 L477.00,962.94 L477.60,963.01 L478.20,962.63 L478.80,963.34 L479.40,962.82 L480.00,963.59 L480.60,962.23 L481.20,963.58 L481.80,963.10 L482.40,962.45 L483.00,963.79 L483.60,963.29 L484.20,962.31 L484.80,962.99 L485.40,963.58 L486.00,963.21 L486.60,963.83 L487.20,963.81 L487.80,963.78 L488.40,963.61 L489.00,964.00 L489.60,963.78 L490.20,963.68 L490.80,962.41 L491.40,963.91 L492.00,964.00 L492.60,963.31 L493.20,963.23 L493.80,964.00 L494.40,962.59 L495.00,963.70 L495.60,964.00 L496.20,963.01 L496.80,963.82 L497.40,964.00 L498.00,963.42 L498.60,963.76 L499.20,963.93 L499.80,963.03 L500.40,963.44 L501.00,963.63 L501.60,963.90 L502.20,963.47 L502.80,963.39 L503.40,962.99 L504.00,963.32 L504.60,963.94 L505.20,963.55 L505.80,963.07 L506.40,963.08 L506.80,964.00 Z" fill="#8f8f8f" stroke="#6e6e6e" stroke-width="0.7"/>
<path d="M311.40,955.03 L312.00,956.27 L312.60,956.13 L313.20,953.94 L313.80,952.97 L314.40,953.78 L315.00,956.32 L315.60,957.11 L316.20,954.52 L316.80,954.16 L317.40,954.05 L318.00,954.95 L318.60,956.97 L319.20,955.85 L319.80,956.16 L320.40,957.21 L321.00,954.60 L321.60,955.49 L322.20,956.87 L322.80,956.40 L323.40,956.90 L324.00,957.82 L324.60,958.55 L325.20,959.34 L325.80,959.10 L326.40,959.59 L327.00,958.98 L327.60,959.77 L328.20,958.68 L328.80,957.06 L329.40,956.35 L330.00,956.03 L330.60,956.18 L331.20,957.26 L331.80,956.92 L332.40,954.70 L333.00,956.79 L333.60,955.01 L334.20,957.40 L334.80,956.76 L335.40,957.95 L336.00,959.40 L336.60,956.72 L337.20,957.23 L337.80,960.32 L338.40,957.78 L339.00,960.63 L339.60,958.62 L340.20,957.86 L340.80,956.64 L341.40,956.22 L342.00,958.00 L342.60,958.71 L343.20,956.77 L343.80,957.11 L344.40,958.60 L345.00,956.62 L345.60,956.78 L346.20,956.61 L346.80,957.73 L347.40,957.16 L348.00,954.65 L348.60,957.76 L349.20,953.06 L349.80,954.65 L350.40,953.13 L351.00,952.25 L351.60,950.21 L352.20,950.39 L352.80,950.06 L353.40,948.35 L354.00,950.67 L354.60,947.48 L355.20,946.08 L355.80,948.96 L356.40,943.78 L357.00,944.88 L357.60,939.79 L358.20,942.97 L358.80,937.03 L359.40,935.73 L360.00,936.23 L360.60,930.29 L361.20,929.94 L361.80,929.01 L362.40,922.52 L363.00,917.56 L363.60,916.38 L364.20,913.60 L364.80,910.87 L365.40,907.30 L366.00,899.99 L366.60,890.75 L367.20,889.55 L367.80,886.75 L368.40,881.56 L369.00,883.82 L369.60,880.82 L370.20,878.19 L370.80,872.16 L371.40,869.74 L372.00,868.14 L372.60,864.55 L373.20,862.08 L373.80,861.29 L374.40,864.56 L375.00,869.13 L375.60,862.97 L376.20,869.82 L376.80,871.40 L377.40,873.31 L378.00,873.78 L378.60,878.30 L379.20,878.13 L379.80,878.55 L380.40,878.80 L381.00,877.93 L381.60,878.85 L382.20,887.11 L382.80,887.88 L383.40,897.76 L384.00,902.59 L384.60,901.97 L385.20,902.18 L385.80,904.21 L386.40,905.62 L387.00,912.56 L387.60,913.97 L388.20,919.37 L388.80,927.72 L389.40,929.35 L390.00,930.03 L390.60,932.48 L391.20,935.00 L391.80,934.82 L392.40,938.58 L393.00,940.83 L393.60,938.67 L394.20,942.48 L394.80,943.71 L395.40,947.25 L396.00,947.42 L396.60,951.00 L397.20,951.18 L397.80,953.30 L398.40,953.05 L399.00,953.86 L399.60,956.00 L400.20,955.40 L400.80,958.33 L401.40,958.00 L402.00,957.73 L402.60,957.38 L403.20,957.91 L403.80,959.31 L404.40,957.11 L405.00,961.71 L405.60,958.50 L406.20,958.76 L406.80,958.88 L407.40,959.67 L408.00,959.10 L408.60,960.62 L409.20,961.55 L409.80,962.26 L410.40,960.85 L411.00,962.21 L411.60,962.39 L412.20,962.12 L412.80,962.11 L413.40,962.09 L414.00,961.66 L414.60,962.21 L415.20,962.91 L415.80,962.53 L416.40,963.34 L417.00,962.68 L417.60,962.88 L418.20,962.15 L418.80,963.40 L419.40,962.96 L420.00,962.52 L420.60,962.75 L421.20,963.36 L421.80,963.36 L422.40,963.40 L423.00,963.20 L423.60,963.20 L424.20,963.40 L424.80,963.40 L425.40,963.25 L426.00,963.07 L426.60,962.96 L427.20,963.31 L427.80,962.71 L428.40,963.40 L429.00,963.15 L429.60,963.40 L430.20,963.39 L430.80,963.40 L431.40,963.38 L432.00,963.40 L432.60,962.78 L433.20,963.33 L433.80,962.26 L434.40,963.18 L435.00,962.24 L435.60,963.40 L436.20,963.40 L436.80,963.40 L437.40,963.40 L438.00,962.05 L438.60,962.97 L439.20,962.73 L439.80,962.88 L440.40,962.48 L441.00,962.59 L441.60,963.40 L442.20,963.21 L442.80,963.16 L443.40,963.40 L444.00,963.40 L444.60,963.40 L445.20,963.20 L445.80,963.25 L446.40,962.13 L447.00,962.64 L447.60,963.40 L448.20,963.40 L448.80,962.93 L449.40,963.40 L450.00,963.40 L450.60,963.09 L451.20,962.73 L451.80,962.99 L452.40,963.08 L453.00,963.40 L453.60,962.05 L454.20,963.40 L454.80,963.01 L455.40,963.40 L456.00,962.93 L456.60,963.26 L457.20,963.40 L457.80,963.40 L458.40,963.40 L459.00,963.21 L459.60,962.97 L460.20,962.71 L460.80,962.45 L461.40,963.40 L462.00,963.30 L462.60,963.38 L463.20,962.30 L463.80,962.97 L464.40,963.40 L465.00,963.16 L465.60,963.15 L466.20,963.18 L466.80,962.90 L467.40,962.74 L468.00,963.40 L468.60,963.40 L469.20,963.31 L469.80,962.80 L470.40,963.40 L471.00,963.05 L471.60,963.40 L472.20,963.33 L472.80,963.40 L473.40,962.59 L474.00,963.40 L474.60,963.40 L475.20,963.24 L475.80,963.38 L476.40,963.40 L477.00,962.51 L477.60,963.36 L478.20,963.01 L478.80,963.35 L479.40,963.40 L480.00,963.14 L480.60,963.40 L481.20,963.13 L481.80,962.82 L482.40,963.40 L483.00,963.40 L483.60,962.34 L484.20,963.32 L484.80,962.92 L485.40,963.24 L486.00,963.40 L486.60,963.40 L487.20,963.35 L487.80,963.07 L488.40,963.40 L489.00,963.36 L489.60,963.40 L490.20,963.12 L490.80,962.86 L491.40,963.34 L492.00,963.19 L492.60,963.40 L493.20,963.38 L493.80,963.35 L494.40,962.93 L495.00,963.26 L495.60,962.86 L496.20,963.40 L496.80,962.74 L497.40,963.40 L498.00,963.40 L498.60,963.40 L499.20,963.29 L499.80,962.67 L500.40,963.40 L501.00,963.17 L501.60,963.40 L502.20,962.81 L502.80,963.40 L503.40,962.30 L504.00,962.68 L504.60,962.82 L505.20,963.40 L505.80,963.40 L506.40,963.18" fill="none" stroke="#151515" stroke-width="1.1" stroke-linejoin="round"/>
<line x1="310.80" y1="794.60" x2="310.80" y2="964.50" stroke="#000" stroke-width="1.6"/>
<line x1="309.40" y1="795.00" x2="312.20" y2="795.00" stroke="#000" stroke-width="0.8"/>
<text x="298.90" y="803.75" font-size="11" font-weight="bold" text-anchor="end" fill="#000" >64</text>
<text x="298.70" y="966.50" font-size="10.5" font-weight="bold" text-anchor="end" fill="#000" >0</text>
<text transform="translate(285.50,876.75) rotate(-90)" font-size="10" font-weight="bold" text-anchor="middle" fill="#000">Events</text>
<text x="298.40" y="982.60" font-size="10" font-weight="bold">10</text>
<text x="309.70" y="978.40" font-size="6.3" font-weight="bold">0</text>
<text x="345.80" y="983.50" font-size="10" font-weight="bold">10</text>
<text x="357.10" y="979.30" font-size="6.3" font-weight="bold">1</text>
<text x="395.40" y="984.40" font-size="10" font-weight="bold">10</text>
<text x="406.70" y="980.20" font-size="6.3" font-weight="bold">2</text>
<text x="445.10" y="985.30" font-size="10" font-weight="bold">10</text>
<text x="456.40" y="981.10" font-size="6.3" font-weight="bold">3</text>
<text x="495.10" y="986.20" font-size="10" font-weight="bold">10</text>
<text x="506.40" y="982.00" font-size="6.3" font-weight="bold">4</text>
<text x="423.60" y="858.90" font-size="10.3" font-weight="bold" text-anchor="start" fill="#000" textLength="16.3" lengthAdjust="spacingAndGlyphs">WT</text>
<path d="M307.30,1197.00 L307.90,1169.44 L308.50,1162.66 L309.10,1154.32 L309.70,1146.98 L310.30,1141.36 L310.90,1137.88 L311.50,1134.78 L312.10,1129.38 L312.70,1126.18 L313.30,1126.86 L313.90,1127.37 L314.50,1129.65 L315.10,1123.95 L315.70,1119.39 L316.30,1109.74 L316.90,1108.13 L317.50,1110.29 L318.10,1108.95 L318.70,1105.51 L319.30,1120.14 L319.90,1120.03 L320.50,1120.53 L321.10,1115.53 L321.70,1122.97 L322.30,1110.51 L322.90,1098.10 L323.50,1085.53 L324.10,1096.71 L324.70,1096.08 L325.30,1105.73 L325.90,1092.30 L326.50,1091.24 L327.10,1089.57 L327.70,1082.34 L328.30,1093.85 L328.90,1102.53 L329.50,1111.78 L330.10,1119.75 L330.70,1125.38 L331.30,1123.13 L331.90,1105.58 L332.50,1104.47 L333.10,1104.45 L333.70,1096.99 L334.30,1095.58 L334.90,1107.41 L335.50,1107.66 L336.10,1104.99 L336.70,1098.68 L337.30,1090.93 L337.90,1080.91 L338.50,1077.75 L339.10,1091.81 L339.70,1087.74 L340.30,1088.28 L340.90,1084.68 L341.50,1074.07 L342.10,1076.78 L342.70,1089.91 L343.30,1092.23 L343.90,1084.91 L344.50,1084.09 L345.10,1084.97 L345.70,1094.13 L346.30,1101.34 L346.90,1102.18 L347.50,1107.19 L348.10,1115.74 L348.70,1111.49 L349.30,1124.43 L349.90,1125.99 L350.50,1127.34 L351.10,1133.55 L351.70,1142.35 L352.30,1142.42 L352.90,1143.79 L353.50,1155.42 L354.10,1162.60 L354.70,1162.02 L355.30,1164.77 L355.90,1167.46 L356.50,1171.07 L357.10,1176.79 L357.70,1180.41 L358.30,1183.30 L358.90,1187.66 L359.50,1184.09 L360.10,1184.13 L360.70,1180.85 L361.30,1180.98 L361.90,1184.62 L362.50,1187.49 L363.10,1190.56 L363.70,1190.69 L364.30,1188.55 L364.90,1192.94 L365.50,1189.47 L366.10,1192.34 L366.70,1193.46 L367.30,1193.12 L367.90,1193.90 L368.50,1193.12 L369.10,1191.54 L369.70,1194.06 L370.30,1192.67 L370.90,1191.27 L371.50,1192.59 L372.10,1192.33 L372.70,1192.75 L373.30,1191.29 L373.90,1192.31 L374.50,1191.71 L375.10,1194.26 L375.70,1191.43 L376.30,1193.93 L376.90,1192.05 L377.50,1193.95 L378.10,1195.84 L378.70,1192.03 L379.30,1192.95 L379.90,1191.55 L380.50,1191.97 L381.10,1192.28 L381.70,1193.32 L382.30,1194.60 L382.90,1194.63 L383.50,1192.70 L384.10,1193.72 L384.70,1191.48 L385.30,1194.59 L385.90,1193.52 L386.50,1192.43 L387.10,1193.09 L387.70,1195.14 L388.30,1194.61 L388.90,1195.55 L389.50,1194.12 L390.10,1195.15 L390.70,1194.72 L391.30,1192.99 L391.90,1195.10 L392.50,1195.26 L393.10,1195.23 L393.70,1196.08 L394.30,1196.86 L394.90,1196.57 L395.50,1195.92 L396.10,1195.32 L396.70,1195.82 L397.30,1195.60 L397.90,1196.00 L398.50,1196.54 L399.10,1195.91 L399.70,1195.23 L400.30,1196.65 L400.90,1196.00 L401.50,1196.67 L402.10,1195.54 L402.70,1197.00 L403.30,1195.39 L403.90,1196.09 L404.50,1196.45 L405.10,1194.73 L405.70,1195.66 L406.30,1195.26 L406.90,1196.96 L407.50,1196.45 L408.10,1195.62 L408.70,1195.23 L409.30,1195.25 L409.90,1196.23 L410.50,1195.75 L411.10,1196.36 L411.70,1195.91 L412.30,1195.33 L412.90,1197.00 L413.50,1196.46 L414.10,1195.87 L414.70,1196.06 L415.30,1196.91 L415.90,1196.67 L416.50,1195.63 L417.10,1197.00 L417.70,1195.96 L418.30,1196.58 L418.90,1195.68 L419.50,1195.95 L420.10,1196.70 L420.70,1195.69 L421.30,1196.34 L421.90,1196.51 L422.50,1195.97 L423.10,1197.00 L423.70,1196.64 L424.30,1196.24 L424.90,1196.82 L425.50,1197.00 L426.10,1196.94 L426.70,1196.25 L427.30,1196.72 L427.90,1196.51 L428.50,1195.75 L429.10,1196.13 L429.70,1197.00 L430.30,1195.91 L430.90,1196.56 L431.50,1197.00 L432.10,1196.13 L432.70,1196.31 L433.30,1195.94 L433.90,1196.58 L434.50,1195.70 L435.10,1196.55 L435.70,1195.90 L436.30,1196.50 L436.90,1195.46 L437.50,1195.77 L438.10,1196.80 L438.70,1196.63 L439.30,1194.78 L439.90,1197.00 L440.50,1195.91 L441.10,1196.78 L441.70,1196.86 L442.30,1196.25 L442.90,1196.14 L443.50,1195.36 L444.10,1196.58 L444.70,1197.00 L445.30,1195.71 L445.90,1196.92 L446.50,1196.73 L447.10,1196.83 L447.70,1195.81 L448.30,1196.29 L448.90,1196.48 L449.50,1197.00 L450.10,1195.88 L450.70,1196.09 L451.30,1195.97 L451.90,1196.80 L452.50,1195.56 L453.10,1196.26 L453.70,1195.70 L454.30,1196.19 L454.90,1196.75 L455.50,1196.10 L456.10,1196.72 L456.70,1196.13 L457.30,1196.35 L457.90,1196.30 L458.50,1195.93 L459.10,1196.59 L459.70,1196.71 L460.30,1195.98 L460.90,1196.73 L461.50,1196.44 L462.10,1196.17 L462.70,1196.46 L463.30,1196.81 L463.90,1196.77 L464.50,1197.00 L465.10,1196.53 L465.70,1196.50 L466.30,1195.64 L466.90,1196.12 L467.50,1196.70 L468.10,1195.84 L468.70,1195.93 L469.30,1197.00 L469.90,1196.36 L470.50,1195.85 L471.10,1195.34 L471.70,1195.97 L472.30,1197.00 L472.90,1196.40 L473.50,1196.72 L474.10,1196.76 L474.70,1196.17 L475.30,1196.60 L475.90,1196.44 L476.50,1196.26 L477.10,1196.94 L477.70,1196.00 L478.30,1196.05 L478.90,1196.10 L479.50,1197.00 L480.10,1196.19 L480.70,1197.00 L481.30,1195.76 L481.90,1195.94 L482.50,1195.11 L483.10,1195.97 L483.70,1196.48 L484.30,1196.79 L484.90,1195.95 L485.50,1196.18 L486.10,1197.00 L486.70,1196.20 L487.30,1196.50 L487.90,1196.77 L488.50,1195.96 L489.10,1197.00 L489.70,1196.36 L490.30,1196.85 L490.90,1196.31 L491.50,1196.59 L492.10,1197.00 L492.70,1196.57 L493.30,1195.54 L493.90,1196.32 L494.50,1196.27 L495.10,1196.37 L495.70,1196.56 L496.30,1195.65 L496.90,1197.00 L497.50,1196.04 L498.10,1197.00 L498.70,1196.28 L499.30,1196.29 L499.90,1196.41 L500.50,1196.30 L501.10,1196.75 L501.70,1197.00 L502.30,1197.00 L502.90,1197.00 L503.50,1195.86 L504.10,1196.81 L504.70,1196.73 L505.30,1196.44 L505.90,1196.64 L506.50,1196.49 L507.10,1195.91 L507.70,1196.06 L508.30,1196.97 L508.90,1196.46 L509.50,1197.00 L510.10,1196.26 L510.40,1197.00 Z" fill="#8f8f8f" stroke="#6e6e6e" stroke-width="0.7"/>
<path d="M307.90,1188.41 L308.50,1188.78 L309.10,1187.95 L309.70,1186.21 L310.30,1186.59 L310.90,1187.19 L311.50,1186.95 L312.10,1186.82 L312.70,1188.26 L313.30,1191.20 L313.90,1190.66 L314.50,1191.40 L315.10,1192.76 L315.70,1189.24 L316.30,1190.83 L316.90,1190.39 L317.50,1190.73 L318.10,1189.69 L318.70,1188.97 L319.30,1189.41 L319.90,1190.90 L320.50,1191.26 L321.10,1191.52 L321.70,1189.75 L322.30,1190.51 L322.90,1191.45 L323.50,1190.19 L324.10,1187.11 L324.70,1190.72 L325.30,1189.50 L325.90,1189.69 L326.50,1188.45 L327.10,1192.79 L327.70,1189.83 L328.30,1187.91 L328.90,1190.70 L329.50,1191.03 L330.10,1190.40 L330.70,1188.63 L331.30,1192.44 L331.90,1191.23 L332.50,1192.47 L333.10,1190.77 L333.70,1190.90 L334.30,1191.94 L334.90,1191.21 L335.50,1190.60 L336.10,1190.67 L336.70,1193.05 L337.30,1191.08 L337.90,1190.91 L338.50,1187.95 L339.10,1190.25 L339.70,1190.89 L340.30,1190.88 L340.90,1191.59 L341.50,1188.75 L342.10,1189.35 L342.70,1191.80 L343.30,1192.20 L343.90,1194.08 L344.50,1192.87 L345.10,1191.04 L345.70,1190.46 L346.30,1190.31 L346.90,1188.63 L347.50,1187.73 L348.10,1189.96 L348.70,1188.39 L349.30,1187.01 L349.90,1187.58 L350.50,1188.41 L351.10,1186.26 L351.70,1186.69 L352.30,1186.37 L352.90,1186.54 L353.50,1186.43 L354.10,1183.77 L354.70,1182.35 L355.30,1181.31 L355.90,1181.10 L356.50,1178.36 L357.10,1176.50 L357.70,1177.54 L358.30,1173.42 L358.90,1169.34 L359.50,1168.39 L360.10,1164.03 L360.70,1163.30 L361.30,1158.71 L361.90,1157.71 L362.50,1156.02 L363.10,1157.90 L363.70,1162.29 L364.30,1158.63 L364.90,1150.28 L365.50,1144.82 L366.10,1139.15 L366.70,1137.65 L367.30,1130.69 L367.90,1125.82 L368.50,1124.21 L369.10,1118.49 L369.70,1113.16 L370.30,1112.62 L370.90,1106.64 L371.50,1109.19 L372.10,1104.36 L372.70,1099.32 L373.30,1102.71 L373.90,1100.11 L374.50,1099.65 L375.10,1094.75 L375.70,1095.80 L376.30,1097.43 L376.90,1092.76 L377.50,1084.18 L378.10,1076.37 L378.70,1074.99 L379.30,1071.66 L379.90,1078.15 L380.50,1088.64 L381.10,1093.07 L381.70,1089.46 L382.30,1082.26 L382.90,1082.65 L383.50,1080.22 L384.10,1084.99 L384.70,1085.92 L385.30,1089.77 L385.90,1101.25 L386.50,1104.35 L387.10,1109.69 L387.70,1112.73 L388.30,1120.53 L388.90,1120.25 L389.50,1126.69 L390.10,1131.42 L390.70,1130.59 L391.30,1140.97 L391.90,1145.65 L392.50,1152.22 L393.10,1154.18 L393.70,1160.47 L394.30,1161.91 L394.90,1163.91 L395.50,1167.30 L396.10,1166.89 L396.70,1170.29 L397.30,1169.58 L397.90,1172.07 L398.50,1172.12 L399.10,1176.21 L399.70,1174.24 L400.30,1180.18 L400.90,1180.48 L401.50,1181.19 L402.10,1185.55 L402.70,1183.78 L403.30,1183.96 L403.90,1185.60 L404.50,1186.90 L405.10,1188.04 L405.70,1187.56 L406.30,1190.40 L406.90,1191.07 L407.50,1193.24 L408.10,1190.91 L408.70,1192.02 L409.30,1191.65 L409.90,1192.70 L410.50,1191.19 L411.10,1193.16 L411.70,1191.84 L412.30,1191.34 L412.90,1195.73 L413.50,1193.27 L414.10,1196.40 L414.70,1194.73 L415.30,1194.13 L415.90,1196.40 L416.50,1193.73 L417.10,1195.43 L417.70,1195.51 L418.30,1194.79 L418.90,1195.26 L419.50,1195.20 L420.10,1194.23 L420.70,1196.11 L421.30,1194.94 L421.90,1195.09 L422.50,1196.22 L423.10,1196.26 L423.70,1195.77 L424.30,1196.23 L424.90,1195.76 L425.50,1196.40 L426.10,1196.04 L426.70,1195.78 L427.30,1196.14 L427.90,1196.40 L428.50,1196.40 L429.10,1196.24 L429.70,1195.60 L430.30,1196.40 L430.90,1195.97 L431.50,1196.40 L432.10,1196.40 L432.70,1196.21 L433.30,1196.33 L433.90,1196.40 L434.50,1196.05 L435.10,1196.00 L435.70,1196.40 L436.30,1195.85 L436.90,1195.57 L437.50,1196.40 L438.10,1195.88 L438.70,1195.65 L439.30,1196.23 L439.90,1196.32 L440.50,1196.40 L441.10,1196.25 L441.70,1195.50 L442.30,1196.40 L442.90,1196.40 L443.50,1196.33 L444.10,1196.40 L444.70,1196.13 L445.30,1195.82 L445.90,1195.97 L446.50,1196.40 L447.10,1196.40 L447.70,1195.92 L448.30,1195.94 L448.90,1196.15 L449.50,1196.28 L450.10,1196.40 L450.70,1196.21 L451.30,1196.40 L451.90,1196.40 L452.50,1196.40 L453.10,1195.90 L453.70,1196.31 L454.30,1195.14 L454.90,1196.30 L455.50,1196.40 L456.10,1196.40 L456.70,1196.27 L457.30,1196.40 L457.90,1196.40 L458.50,1196.24 L459.10,1196.40 L459.70,1196.21 L460.30,1196.40 L460.90,1196.40 L461.50,1196.40 L462.10,1196.40 L462.70,1195.19 L463.30,1196.40 L463.90,1195.65 L464.50,1196.40 L465.10,1196.10 L465.70,1196.40 L466.30,1195.90 L466.90,1196.19 L467.50,1195.91 L468.10,1196.08 L468.70,1196.02 L469.30,1196.23 L469.90,1196.12 L470.50,1196.40 L471.10,1194.75 L471.70,1196.40 L472.30,1196.40 L472.90,1196.23 L473.50,1195.89 L474.10,1195.49 L474.70,1196.40 L475.30,1195.76 L475.90,1196.40 L476.50,1196.40 L477.10,1196.08 L477.70,1196.40 L478.30,1196.40 L478.90,1196.40 L479.50,1196.30 L480.10,1196.40 L480.70,1195.94 L481.30,1196.40 L481.90,1195.95 L482.50,1196.23 L483.10,1196.40 L483.70,1196.40 L484.30,1196.40 L484.90,1196.40 L485.50,1196.40 L486.10,1196.23 L486.70,1195.56 L487.30,1195.68 L487.90,1196.40 L488.50,1196.40 L489.10,1196.19 L489.70,1196.40 L490.30,1196.40 L490.90,1196.40 L491.50,1196.12 L492.10,1196.40 L492.70,1195.47 L493.30,1195.94 L493.90,1195.94 L494.50,1196.02 L495.10,1196.40 L495.70,1196.40 L496.30,1195.90 L496.90,1196.40 L497.50,1196.40 L498.10,1196.40 L498.70,1196.40 L499.30,1195.80 L499.90,1196.40 L500.50,1196.40 L501.10,1196.40 L501.70,1195.60 L502.30,1196.26 L502.90,1195.93 L503.50,1195.44 L504.10,1196.40 L504.70,1196.24 L505.30,1196.21 L505.90,1196.40 L506.50,1196.40 L507.10,1196.40 L507.70,1196.40 L508.30,1196.40 L508.90,1196.40 L509.50,1196.09 L510.10,1196.40" fill="none" stroke="#151515" stroke-width="1.1" stroke-linejoin="round"/>
<line x1="307.30" y1="1001.50" x2="307.30" y2="1197.50" stroke="#000" stroke-width="1.6"/>
<line x1="305.90" y1="1001.90" x2="308.70" y2="1001.90" stroke="#000" stroke-width="0.8"/>
<text x="298.60" y="1033.30" font-size="11" font-weight="bold" text-anchor="end" fill="#000" >64</text>
<text x="297.60" y="1196.10" font-size="10.5" font-weight="bold" text-anchor="end" fill="#000" >0</text>
<text transform="translate(284.90,1106.30) rotate(-90)" font-size="10" font-weight="bold" text-anchor="middle" fill="#000">Events</text>
<text x="297.60" y="1210.80" font-size="10" font-weight="bold">10</text>
<text x="308.90" y="1206.60" font-size="6.3" font-weight="bold">0</text>
<text x="345.40" y="1211.70" font-size="10" font-weight="bold">10</text>
<text x="356.70" y="1207.50" font-size="6.3" font-weight="bold">1</text>
<text x="394.80" y="1212.60" font-size="10" font-weight="bold">10</text>
<text x="406.10" y="1208.40" font-size="6.3" font-weight="bold">2</text>
<text x="445.10" y="1213.50" font-size="10" font-weight="bold">10</text>
<text x="456.40" y="1209.30" font-size="6.3" font-weight="bold">3</text>
<text x="495.10" y="1214.40" font-size="10" font-weight="bold">10</text>
<text x="506.40" y="1210.20" font-size="6.3" font-weight="bold">4</text>
<text x="412.10" y="1090.20" font-size="10.55" font-weight="bold" text-anchor="start" fill="#000" textLength="86.6" lengthAdjust="spacingAndGlyphs">WT + Annexin A2</text>
<text x="0.00" y="0.00" font-size="10" font-weight="normal" text-anchor="start" fill="#000" ></text>
</svg>
</body></html>
